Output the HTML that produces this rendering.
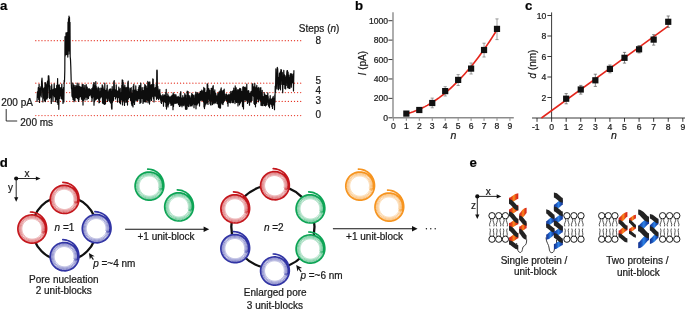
<!DOCTYPE html>
<html lang="en">
<head>
<meta charset="utf-8">
<title>Figure</title>
<style>
html,body{margin:0;padding:0;background:#fff;}
body{width:685px;height:309px;overflow:hidden;}
svg{display:block;will-change:transform;}
svg text{font-family:"Liberation Sans", Arial, Helvetica, sans-serif;stroke:#1a1a1a;stroke-width:0.22px;}
</style>
</head>
<body>
<svg width="685" height="309" viewBox="0 0 685 309">
<defs>
<linearGradient id="gR" x1="0" y1="0" x2="1" y2="0"><stop offset="0" stop-color="#d31d1a"/><stop offset="0.28" stop-color="#e4401a"/><stop offset="0.52" stop-color="#f98f1c"/><stop offset="0.76" stop-color="#e4401a"/><stop offset="1" stop-color="#d31d1a"/></linearGradient>
<linearGradient id="gB" x1="0" y1="0" x2="1" y2="0"><stop offset="0" stop-color="#12308f"/><stop offset="0.28" stop-color="#1c52b8"/><stop offset="0.52" stop-color="#2d84e8"/><stop offset="0.76" stop-color="#1c52b8"/><stop offset="1" stop-color="#12308f"/></linearGradient>
</defs>
<g id="panel-a">
<text x="0.00" y="10.30" font-size="13.2" text-anchor="start" font-weight="bold" font-style="normal" fill="#000" >a</text>
<line x1="35.8" y1="40.65" x2="302.6" y2="40.65" stroke="#e63323" stroke-width="1.3" stroke-linecap="round" stroke-dasharray="0.01 3.07" />
<line x1="35.8" y1="83.2" x2="302.6" y2="83.2" stroke="#e63323" stroke-width="1.3" stroke-linecap="round" stroke-dasharray="0.01 3.07" />
<line x1="35.8" y1="92.55" x2="302.6" y2="92.55" stroke="#e63323" stroke-width="1.3" stroke-linecap="round" stroke-dasharray="0.01 3.07" />
<line x1="35.8" y1="101.45" x2="302.6" y2="101.45" stroke="#e63323" stroke-width="1.3" stroke-linecap="round" stroke-dasharray="0.01 3.07" />
<line x1="35.8" y1="115.55" x2="302.6" y2="115.55" stroke="#e63323" stroke-width="1.3" stroke-linecap="round" stroke-dasharray="0.01 3.07" />
<text x="298.80" y="32.10" font-size="10" text-anchor="start" font-weight="normal" font-style="normal" fill="#1a1a1a" >Steps (<tspan font-style="italic">n</tspan>)</text>
<text x="315.40" y="44.10" font-size="10" text-anchor="start" font-weight="normal" font-style="normal" fill="#1a1a1a" >8</text>
<text x="315.40" y="84.20" font-size="10" text-anchor="start" font-weight="normal" font-style="normal" fill="#1a1a1a" >5</text>
<text x="315.40" y="94.00" font-size="10" text-anchor="start" font-weight="normal" font-style="normal" fill="#1a1a1a" >4</text>
<text x="315.40" y="104.20" font-size="10" text-anchor="start" font-weight="normal" font-style="normal" fill="#1a1a1a" >3</text>
<text x="315.40" y="118.40" font-size="10" text-anchor="start" font-weight="normal" font-style="normal" fill="#1a1a1a" >0</text>
<text x="1.20" y="106.20" font-size="10" text-anchor="start" font-weight="normal" font-style="normal" fill="#1a1a1a" >200 pA</text>
<text x="20.30" y="125.70" font-size="10" text-anchor="start" font-weight="normal" font-style="normal" fill="#1a1a1a" >200 ms</text>
<path d="M6.2 109 V121 H17.2" fill="none" stroke="#1a1a1a" stroke-width="0.9"/>
<polyline points="37.0,102.0 37.4,91.9 37.8,97.5 38.3,87.5 38.7,99.5 39.1,84.3 39.5,102.5 39.9,88.5 40.4,95.1 40.8,86.9 41.2,97.0 41.6,81.5 42.0,78.2 42.5,86.8 42.9,101.9 43.3,88.9 43.7,98.2 44.1,87.8 44.6,100.7 45.0,82.7 45.4,101.6 45.8,82.9 46.2,99.1 46.7,84.8 47.1,98.9 47.5,81.0 47.9,97.5 48.3,75.8 48.8,75.9 49.2,81.6 49.6,98.4 50.0,86.0 50.4,97.4 50.9,90.6 51.3,103.5 51.7,84.5 52.1,94.6 52.5,89.8 53.0,101.5 53.4,89.3 53.8,95.6 54.2,83.8 54.6,96.8 55.1,88.5 55.5,101.6 55.9,88.8 56.3,99.3 56.7,85.4 57.2,102.6 57.6,78.5 58.0,104.4 58.4,85.0 58.8,109.3 59.3,84.9 59.7,98.4 60.1,88.1 60.5,96.0 60.9,87.7 61.4,98.7 61.8,84.0 62.2,99.2 62.6,89.4 63.0,103.5 63.5,87.6 63.9,102.0 64.2,80.3 64.5,81.7 64.8,70.7 65.0,36.7 65.2,55.9 65.5,39.0 65.8,54.6 66.0,32.9 66.2,54.1 66.5,36.1 66.8,54.6 67.0,32.6 67.2,53.9 67.5,34.8 67.8,57.1 68.0,22.1 68.2,54.3 68.5,18.7 68.8,50.5 69.0,16.1 69.2,50.8 69.5,17.4 69.8,53.9 70.0,22.3 70.2,56.8 70.5,59.6 70.8,66.8 71.0,73.9 71.2,80.9 71.5,88.4 71.8,89.5 72.0,96.2 72.2,88.5 72.5,97.2 72.8,83.2 73.0,99.5 73.2,84.2 73.5,95.3 73.8,87.8 74.0,101.7 74.2,85.3 74.5,97.4 74.8,87.1 75.0,100.5 75.2,88.0 75.5,97.6 75.8,85.6 76.0,95.0 76.2,92.6 76.5,97.7 76.8,85.9 77.0,94.6 77.2,83.2 77.5,98.6 77.8,86.0 78.0,95.7 78.2,89.2 78.5,101.4 78.8,83.9 79.0,99.9 79.2,89.4 79.5,97.2 79.8,86.7 80.0,95.4 80.2,91.0 80.5,96.6 80.8,87.0 81.0,94.9 81.2,87.6 81.5,99.2 81.8,87.1 82.0,98.0 82.2,84.4 82.5,100.4 82.8,91.7 83.0,105.1 83.2,84.6 83.5,100.4 83.8,87.8 84.0,98.3 84.2,90.4 84.5,98.0 84.8,85.3 85.0,100.0 85.2,89.9 85.5,94.7 85.8,91.0 86.0,97.2 86.2,84.6 86.5,93.5 86.8,88.0 87.0,99.7 87.2,87.0 87.5,97.0 87.8,90.8 88.0,97.9 88.2,88.9 88.5,98.5 88.8,92.0 89.0,95.6 89.2,88.7 89.5,95.6 89.8,91.2 90.0,94.4 90.2,89.3 90.5,93.1 90.8,91.3 91.0,96.0 91.2,90.1 91.5,97.6 91.8,88.7 92.0,101.2 92.2,89.3 92.5,97.9 92.8,87.2 93.0,93.8 93.2,84.6 93.5,96.6 93.8,82.6 94.0,105.2 94.2,82.8 94.5,101.8 94.8,89.3 95.0,95.2 95.2,85.7 95.5,99.9 95.8,81.5 96.0,99.4 96.2,86.4 96.5,98.9 96.8,88.0 97.0,98.3 97.2,89.9 97.5,94.7 97.8,91.5 98.0,98.5 98.2,87.1 98.5,99.3 98.8,92.6 99.0,102.8 99.2,88.4 99.5,102.5 99.8,91.7 100.0,98.7 100.2,91.5 100.5,97.4 100.8,88.2 101.0,95.6 101.2,91.8 101.5,96.3 101.8,88.1 102.0,97.6 102.2,84.8 102.5,103.1 102.8,85.9 103.0,100.1 103.2,87.7 103.5,103.7 103.8,91.8 104.0,103.8 104.2,89.2 104.5,104.3 104.8,83.1 105.0,104.3 105.2,92.8 105.5,103.5 105.8,90.4 106.0,99.0 106.2,90.3 106.5,96.5 106.8,88.5 107.0,98.0 107.2,85.0 107.5,101.5 107.8,92.5 108.0,97.6 108.2,91.8 108.5,98.2 108.8,90.5 109.0,100.6 109.2,89.6 109.5,96.8 109.8,89.0 110.0,101.7 110.2,90.1 110.5,102.9 110.8,88.9 111.0,97.8 111.2,91.1 111.5,107.6 111.8,109.2 112.0,108.6 112.2,86.7 112.5,102.3 112.8,92.3 113.0,96.6 113.2,89.6 113.5,100.3 113.8,81.6 114.0,81.6 114.2,80.5 114.5,96.5 114.8,89.6 115.0,96.3 115.2,89.9 115.5,99.0 115.8,91.3 116.0,97.5 116.2,84.8 116.5,96.6 116.8,90.6 117.0,96.0 117.2,92.9 117.5,102.1 117.8,91.0 118.0,97.6 118.2,91.4 118.5,97.0 118.8,87.1 119.0,97.7 119.2,89.9 119.5,102.7 119.8,89.3 120.0,99.9 120.2,88.4 120.5,103.8 120.8,92.7 121.0,97.6 121.2,92.9 121.5,99.9 121.8,85.0 122.0,99.5 122.2,79.8 122.5,104.9 122.8,80.4 123.0,101.9 123.2,82.4 123.5,98.9 123.8,86.8 124.0,100.7 124.2,89.8 124.5,105.5 124.8,85.1 125.0,97.8 125.2,87.2 125.5,99.8 125.8,88.1 126.0,102.5 126.2,90.1 126.5,101.4 126.8,87.3 127.0,99.0 127.2,89.8 127.5,105.1 127.8,82.6 128.0,82.9 128.2,81.0 128.5,99.0 128.8,87.7 129.0,95.5 129.2,92.0 129.5,97.5 129.8,92.0 130.0,95.7 130.2,88.6 130.5,100.3 130.8,92.2 131.0,99.8 131.2,87.5 131.5,104.0 131.8,93.6 132.0,105.6 132.2,94.2 132.5,98.6 132.8,90.1 133.0,106.9 133.2,86.1 133.5,102.4 133.8,84.3 134.0,101.0 134.2,90.4 134.5,104.5 134.8,90.0 135.0,96.4 135.2,94.2 135.5,99.7 135.8,85.9 136.0,101.1 136.2,89.9 136.5,100.2 136.8,93.4 137.0,98.9 137.2,91.5 137.5,100.6 137.8,92.1 138.0,100.1 138.2,89.3 138.5,98.3 138.8,87.3 139.0,98.3 139.2,85.7 139.5,98.1 139.8,93.1 140.0,103.4 140.2,85.6 140.5,101.4 140.8,83.2 141.0,102.3 141.2,91.3 141.5,94.8 141.8,91.7 142.0,98.4 142.2,87.5 142.5,95.6 142.8,91.5 143.0,103.5 143.2,90.5 143.5,97.0 143.8,91.5 144.0,102.0 144.2,87.1 144.5,101.2 144.8,84.4 145.0,101.3 145.2,85.1 145.5,100.9 145.8,85.9 146.0,102.3 146.2,86.0 146.5,96.2 146.8,88.0 147.0,99.9 147.2,89.3 147.5,100.3 147.8,81.4 148.0,102.7 148.2,86.7 148.5,101.0 148.8,82.7 149.0,95.2 149.2,85.7 149.5,104.1 149.8,81.9 150.0,100.9 150.2,85.3 150.5,93.1 150.8,88.6 151.0,99.0 151.2,84.6 151.5,100.4 151.8,90.5 152.0,97.0 152.2,84.7 152.5,96.1 152.8,78.8 153.0,79.6 153.2,79.3 153.5,98.7 153.8,84.3 154.0,102.0 154.2,88.0 154.5,95.0 154.8,89.9 155.0,96.0 155.2,87.7 155.5,93.7 155.8,90.2 156.0,96.8 156.2,84.7 156.5,99.3 156.8,70.5 157.0,70.0 157.2,70.9 157.5,98.2 157.8,86.4 158.0,98.4 158.2,88.8 158.5,99.6 158.8,90.5 159.0,97.8 159.2,93.8 159.5,97.8 159.8,89.4 160.0,98.8 160.2,93.7 160.5,99.9 160.8,96.9 161.0,102.4 161.2,95.6 161.5,103.4 161.8,97.7 162.0,101.3 162.2,96.5 162.5,100.7 162.8,94.7 163.0,100.3 163.2,97.3 163.5,106.2 163.8,96.1 164.0,102.2 164.2,94.9 164.5,101.4 164.8,95.4 165.0,100.9 165.2,96.7 165.5,102.5 165.8,92.3 166.0,106.4 166.2,89.4 166.5,109.1 166.8,96.7 167.0,105.2 167.2,96.3 167.5,102.4 167.8,93.8 168.0,106.9 168.2,95.5 168.5,104.8 168.8,96.0 169.0,103.5 169.2,96.9 169.5,101.4 169.8,97.3 170.0,101.7 170.2,99.1 170.5,103.1 170.8,96.6 171.0,105.5 171.2,96.2 171.5,103.8 171.8,97.7 172.0,104.9 172.2,95.1 172.5,105.0 172.8,97.0 173.0,109.7 173.2,92.9 173.5,106.6 173.8,95.4 174.0,103.8 174.2,94.3 174.5,101.3 174.8,97.2 175.0,103.2 175.2,95.5 175.5,103.3 175.8,94.5 176.0,100.3 176.2,95.8 176.5,103.1 176.8,97.7 177.0,102.5 177.2,97.5 177.5,102.8 177.8,96.7 178.0,101.5 178.2,96.3 178.5,104.6 178.8,100.5 179.0,104.3 179.2,97.4 179.5,106.4 179.8,97.9 180.0,106.2 180.2,93.4 180.5,103.6 180.8,91.7 181.0,105.1 181.2,97.6 181.5,101.9 181.8,100.5 182.0,106.8 182.2,98.1 182.5,103.3 182.8,95.6 183.0,105.1 183.2,97.9 183.5,101.8 183.8,100.8 184.0,105.8 184.2,97.1 184.5,104.2 184.8,93.6 185.0,103.7 185.2,96.6 185.5,109.2 185.8,95.2 186.0,104.1 186.2,98.4 186.5,109.3 186.8,99.3 187.0,108.9 187.2,91.0 187.5,105.4 187.8,94.1 188.0,105.6 188.2,91.7 188.5,106.6 188.8,97.5 189.0,106.3 189.2,95.6 189.5,103.9 189.8,96.9 190.0,102.2 190.2,98.5 190.5,106.0 190.8,100.1 191.0,105.7 191.2,95.6 191.5,103.2 191.8,93.3 192.0,106.0 192.2,97.6 192.5,104.7 192.8,94.7 193.0,101.0 193.2,96.3 193.5,103.6 193.8,95.6 194.0,107.7 194.2,98.0 194.5,103.5 194.8,98.7 195.0,104.6 195.2,94.7 195.5,101.4 195.8,92.0 196.0,108.8 196.2,98.2 196.5,101.1 196.8,94.1 197.0,105.0 197.2,92.6 197.5,103.8 197.8,93.1 198.0,101.3 198.2,94.2 198.5,102.8 198.8,95.0 199.0,98.6 199.2,93.7 199.5,106.1 199.8,93.9 200.0,99.9 200.2,91.6 200.5,98.1 200.8,91.4 201.0,100.7 201.2,92.7 201.5,96.3 201.8,90.1 202.0,99.8 202.2,91.5 202.5,100.3 202.8,93.0 203.0,96.8 203.2,90.6 203.5,101.9 203.8,87.4 204.0,106.9 204.2,92.2 204.5,108.6 204.8,88.6 205.0,106.1 205.2,92.5 205.5,103.5 205.8,92.6 206.0,104.1 206.2,93.7 206.5,101.8 206.8,90.7 207.0,103.0 207.2,83.8 207.5,84.2 207.8,85.1 208.0,104.4 208.2,89.1 208.5,98.7 208.8,88.5 209.0,99.2 209.2,90.0 209.5,100.7 209.8,90.3 210.0,103.4 210.2,94.9 210.5,104.7 210.8,95.1 211.0,105.1 211.2,88.3 211.5,97.2 211.8,88.4 212.0,100.7 212.2,93.8 212.5,104.6 212.8,86.5 213.0,102.8 213.2,85.7 213.5,101.8 213.8,91.4 214.0,103.7 214.2,93.3 214.5,102.6 214.8,89.9 215.0,102.1 215.2,92.7 215.5,103.0 215.8,93.5 216.0,100.7 216.2,95.6 216.5,101.2 216.8,97.6 217.0,103.4 217.2,95.9 217.5,102.2 217.8,93.7 218.0,104.2 218.2,96.4 218.5,107.2 218.8,92.0 219.0,104.3 219.2,95.6 219.5,108.0 219.8,91.2 220.0,105.8 220.2,93.3 220.5,108.1 220.8,89.0 221.0,102.6 221.2,87.9 221.5,100.2 221.8,90.7 222.0,104.0 222.2,91.6 222.5,100.9 222.8,93.7 223.0,104.6 223.2,90.4 223.5,102.4 223.8,93.3 224.0,100.8 224.2,89.2 224.5,101.0 224.8,94.1 225.0,97.4 225.2,96.9 225.5,98.8 225.8,97.0 226.0,100.5 226.2,93.9 226.5,99.5 226.8,94.3 227.0,101.1 227.2,97.2 227.5,103.5 227.8,95.5 228.0,106.2 228.2,96.7 228.5,101.3 228.8,94.4 229.0,102.2 229.2,95.2 229.5,102.3 229.8,96.8 230.0,102.7 230.2,93.8 230.5,102.8 230.8,91.3 231.0,99.1 231.2,95.2 231.5,100.1 231.8,93.4 232.0,102.4 232.2,91.4 232.5,101.6 232.8,93.1 233.0,102.8 233.2,90.4 233.5,102.3 233.8,88.1 234.0,99.4 234.2,90.7 234.5,97.5 234.8,92.2 235.0,103.6 235.2,85.9 235.5,99.7 235.8,88.2 236.0,101.8 236.2,87.8 236.5,102.4 236.8,90.5 237.0,96.6 237.2,94.1 237.5,102.3 237.8,89.6 238.0,106.0 238.2,90.1 238.5,102.3 238.8,92.9 239.0,96.4 239.2,89.4 239.5,104.8 239.8,88.3 240.0,99.7 240.2,88.6 240.5,102.9 240.8,88.9 241.0,100.9 241.2,93.2 241.5,97.5 241.8,91.3 242.0,101.4 242.2,93.8 242.5,106.6 242.8,87.3 243.0,99.9 243.2,86.5 243.5,109.0 243.8,88.7 244.0,101.8 244.2,87.3 244.5,97.3 244.8,91.1 245.0,99.7 245.2,87.2 245.5,96.4 245.8,88.2 246.0,100.8 246.2,90.1 246.5,99.8 246.8,84.0 247.0,99.0 247.2,92.8 247.5,103.5 247.8,91.1 248.0,102.4 248.2,90.7 248.5,99.9 248.8,90.9 249.0,95.7 249.2,94.9 249.5,105.2 249.8,93.4 250.0,101.5 250.2,93.9 250.5,99.2 250.8,91.9 251.0,102.2 251.2,91.4 251.5,95.5 251.8,93.5 252.0,100.5 252.2,84.0 252.5,85.0 252.8,83.8 253.0,95.6 253.2,89.2 253.5,96.3 253.8,86.9 254.0,103.4 254.2,93.4 254.5,104.3 254.8,83.6 255.0,99.9 255.2,89.0 255.5,106.8 255.8,87.8 256.0,96.6 256.2,86.9 256.5,103.2 256.8,85.3 257.0,94.2 257.2,92.4 257.5,98.4 257.8,88.2 258.0,99.7 258.2,92.3 258.5,101.8 258.8,87.4 259.0,94.9 259.2,91.6 259.5,98.9 259.8,93.3 260.0,100.3 260.2,88.4 260.5,99.1 260.8,87.5 261.0,105.3 261.2,92.4 261.5,101.9 261.8,93.3 262.0,105.6 262.2,90.3 262.5,102.6 262.8,96.3 263.0,105.6 263.2,96.6 263.5,101.4 263.8,98.4 264.0,103.5 264.2,92.7 264.5,105.4 264.8,94.0 265.0,105.4 265.2,95.1 265.5,105.9 265.8,98.7 266.0,105.2 266.2,95.4 266.5,105.0 266.8,95.6 267.0,102.1 267.2,95.7 267.5,102.0 267.8,92.9 268.0,104.5 268.2,96.5 268.5,106.1 268.8,100.6 269.0,105.3 269.2,99.9 269.5,107.7 269.8,98.4 270.0,102.7 270.2,95.7 270.5,103.8 270.8,99.8 271.0,104.2 271.2,99.3 271.5,104.6 271.8,100.4 272.0,106.5 272.2,98.3 272.5,108.4 272.8,97.5 273.0,103.5 273.2,96.4 273.5,105.0 273.8,98.0 274.0,103.1 274.2,100.3 274.5,109.7 274.8,94.8 275.0,102.3 275.2,86.2 275.5,92.3 275.9,68.8 276.2,83.6 276.6,80.0 276.9,88.9 277.3,67.3 277.7,68.9 278.0,77.6 278.4,89.8 278.7,77.6 279.1,88.6 279.5,73.3 279.8,83.9 280.2,72.1 280.5,89.8 280.9,69.6 281.3,69.8 281.6,72.2 282.0,84.4 282.3,72.6 282.7,92.7 283.1,78.7 283.4,81.2 283.8,70.4 284.1,84.4 284.5,74.9 284.9,88.4 285.2,75.8 285.6,88.9 285.9,77.8 286.3,85.5 286.7,74.3 287.0,70.8 287.4,70.6 287.7,87.7 288.1,72.1 288.5,87.8 288.8,75.3 289.2,88.4 289.5,77.8 289.9,88.3 290.3,73.8 290.6,74.4 291.0,73.7 291.3,87.2 291.7,74.2 292.1,82.9 292.4,76.5 292.8,82.1 293.1,74.0 293.5,90.9 293.9,70.3" fill="none" stroke="#0d0d0d" stroke-width="1.2" stroke-linejoin="round"/>
</g>
<g id="panel-b">
<text x="355.00" y="10.40" font-size="13.2" text-anchor="start" font-weight="bold" font-style="normal" fill="#000" >b</text>
<path d="M393.0 12.2 V117.8 H513.8" fill="none" stroke="#8c8c8c" stroke-width="1.4"/>
<line x1="388.40" y1="117.80" x2="392.40" y2="117.80" stroke="#222" stroke-width="0.9"/>
<text x="388.00" y="120.80" font-size="8.6" text-anchor="end" font-weight="normal" font-style="normal" fill="#1a1a1a" >0</text>
<line x1="388.40" y1="98.38" x2="392.40" y2="98.38" stroke="#222" stroke-width="0.9"/>
<text x="388.00" y="101.38" font-size="8.6" text-anchor="end" font-weight="normal" font-style="normal" fill="#1a1a1a" >200</text>
<line x1="388.40" y1="78.96" x2="392.40" y2="78.96" stroke="#222" stroke-width="0.9"/>
<text x="388.00" y="81.96" font-size="8.6" text-anchor="end" font-weight="normal" font-style="normal" fill="#1a1a1a" >400</text>
<line x1="388.40" y1="59.54" x2="392.40" y2="59.54" stroke="#222" stroke-width="0.9"/>
<text x="388.00" y="62.54" font-size="8.6" text-anchor="end" font-weight="normal" font-style="normal" fill="#1a1a1a" >600</text>
<line x1="388.40" y1="40.12" x2="392.40" y2="40.12" stroke="#222" stroke-width="0.9"/>
<text x="388.00" y="43.12" font-size="8.6" text-anchor="end" font-weight="normal" font-style="normal" fill="#1a1a1a" >800</text>
<line x1="388.40" y1="20.70" x2="392.40" y2="20.70" stroke="#222" stroke-width="0.9"/>
<text x="388.00" y="23.70" font-size="8.6" text-anchor="end" font-weight="normal" font-style="normal" fill="#1a1a1a" >1000</text>
<line x1="393.40" y1="118.30" x2="393.40" y2="120.80" stroke="#777" stroke-width="0.9"/>
<text x="393.40" y="128.70" font-size="8.6" text-anchor="middle" font-weight="normal" font-style="normal" fill="#1a1a1a" >0</text>
<line x1="406.35" y1="118.30" x2="406.35" y2="120.80" stroke="#777" stroke-width="0.9"/>
<text x="406.35" y="128.70" font-size="8.6" text-anchor="middle" font-weight="normal" font-style="normal" fill="#1a1a1a" >1</text>
<line x1="419.30" y1="118.30" x2="419.30" y2="120.80" stroke="#777" stroke-width="0.9"/>
<text x="419.30" y="128.70" font-size="8.6" text-anchor="middle" font-weight="normal" font-style="normal" fill="#1a1a1a" >2</text>
<line x1="432.25" y1="118.30" x2="432.25" y2="120.80" stroke="#777" stroke-width="0.9"/>
<text x="432.25" y="128.70" font-size="8.6" text-anchor="middle" font-weight="normal" font-style="normal" fill="#1a1a1a" >3</text>
<line x1="445.20" y1="118.30" x2="445.20" y2="120.80" stroke="#777" stroke-width="0.9"/>
<text x="445.20" y="128.70" font-size="8.6" text-anchor="middle" font-weight="normal" font-style="normal" fill="#1a1a1a" >4</text>
<line x1="458.15" y1="118.30" x2="458.15" y2="120.80" stroke="#777" stroke-width="0.9"/>
<text x="458.15" y="128.70" font-size="8.6" text-anchor="middle" font-weight="normal" font-style="normal" fill="#1a1a1a" >5</text>
<line x1="471.10" y1="118.30" x2="471.10" y2="120.80" stroke="#777" stroke-width="0.9"/>
<text x="471.10" y="128.70" font-size="8.6" text-anchor="middle" font-weight="normal" font-style="normal" fill="#1a1a1a" >6</text>
<line x1="484.05" y1="118.30" x2="484.05" y2="120.80" stroke="#777" stroke-width="0.9"/>
<text x="484.05" y="128.70" font-size="8.6" text-anchor="middle" font-weight="normal" font-style="normal" fill="#1a1a1a" >7</text>
<line x1="497.00" y1="118.30" x2="497.00" y2="120.80" stroke="#777" stroke-width="0.9"/>
<text x="497.00" y="128.70" font-size="8.6" text-anchor="middle" font-weight="normal" font-style="normal" fill="#1a1a1a" >8</text>
<line x1="509.95" y1="118.30" x2="509.95" y2="120.80" stroke="#777" stroke-width="0.9"/>
<text x="509.95" y="128.70" font-size="8.6" text-anchor="middle" font-weight="normal" font-style="normal" fill="#1a1a1a" >9</text>
<text x="453.30" y="139.00" font-size="10.5" text-anchor="middle" font-weight="normal" font-style="italic" fill="#1a1a1a" >n</text>
<text transform="translate(365.8 63.2) rotate(-90)" font-size="10" text-anchor="middle" fill="#1a1a1a"><tspan font-style="italic">I</tspan> (pA)</text>
<path d="M406.35 113.76 L408.67 113.16 L411.00 112.47 L413.32 111.70 L415.65 110.85 L417.97 109.92 L420.30 108.91 L422.62 107.82 L424.94 106.64 L427.27 105.38 L429.59 104.05 L431.92 102.63 L434.24 101.12 L436.57 99.54 L438.89 97.88 L441.22 96.13 L443.54 94.31 L445.86 92.40 L448.19 90.41 L450.51 88.34 L452.84 86.19 L455.16 83.95 L457.49 81.64 L459.81 79.24 L462.13 76.76 L464.46 74.20 L466.78 71.56 L469.11 68.84 L471.43 66.04 L473.76 63.15 L476.08 60.18 L478.41 57.14 L480.73 54.01 L483.05 50.80 L485.38 47.50 L487.70 44.13 L490.03 40.67 L492.35 37.14 L494.68 33.52 L497.00 29.82" fill="none" stroke="#e5261c" stroke-width="1.65"/>
<rect x="403.25" y="110.50" width="6.2" height="6.2" fill="#111"/>
<rect x="416.20" y="106.90" width="6.2" height="6.2" fill="#111"/>
<path d="M432.25 98.1 V107.8 M430.65 98.1 h3.2 M430.65 107.8 h3.2" stroke="#777" stroke-width="0.7" fill="none"/>
<rect x="429.15" y="99.90" width="6.2" height="6.2" fill="#111"/>
<path d="M445.20 86.7 V96.0 M443.60 86.7 h3.2 M443.60 96.0 h3.2" stroke="#777" stroke-width="0.7" fill="none"/>
<rect x="442.10" y="88.00" width="6.2" height="6.2" fill="#111"/>
<path d="M458.15 74.6 V85.5 M456.55 74.6 h3.2 M456.55 85.5 h3.2" stroke="#777" stroke-width="0.7" fill="none"/>
<rect x="455.05" y="76.80" width="6.2" height="6.2" fill="#111"/>
<path d="M471.10 63.0 V74.0 M469.50 63.0 h3.2 M469.50 74.0 h3.2" stroke="#777" stroke-width="0.7" fill="none"/>
<rect x="468.00" y="65.50" width="6.2" height="6.2" fill="#111"/>
<path d="M484.05 43.2 V57.0 M482.45 43.2 h3.2 M482.45 57.0 h3.2" stroke="#777" stroke-width="0.7" fill="none"/>
<rect x="480.95" y="46.90" width="6.2" height="6.2" fill="#111"/>
<path d="M497.00 18.9 V39.6 M495.40 18.9 h3.2 M495.40 39.6 h3.2" stroke="#777" stroke-width="0.7" fill="none"/>
<rect x="493.90" y="25.80" width="6.2" height="6.2" fill="#111"/>
</g>
<g id="panel-c">
<text x="525.00" y="10.30" font-size="13.2" text-anchor="start" font-weight="bold" font-style="normal" fill="#000" >c</text>
<path d="M551.6 12.4 V118.0" fill="none" stroke="#222" stroke-width="0.9"/>
<path d="M532 118.0 H685" fill="none" stroke="#222" stroke-width="0.9"/>
<line x1="547.40" y1="97.50" x2="551.60" y2="97.50" stroke="#222" stroke-width="0.9"/>
<text x="546.20" y="100.50" font-size="8.6" text-anchor="end" font-weight="normal" font-style="normal" fill="#1a1a1a" >2</text>
<line x1="547.40" y1="77.00" x2="551.60" y2="77.00" stroke="#222" stroke-width="0.9"/>
<text x="546.20" y="80.00" font-size="8.6" text-anchor="end" font-weight="normal" font-style="normal" fill="#1a1a1a" >4</text>
<line x1="547.40" y1="56.50" x2="551.60" y2="56.50" stroke="#222" stroke-width="0.9"/>
<text x="546.20" y="59.50" font-size="8.6" text-anchor="end" font-weight="normal" font-style="normal" fill="#1a1a1a" >6</text>
<line x1="547.40" y1="36.00" x2="551.60" y2="36.00" stroke="#222" stroke-width="0.9"/>
<text x="546.20" y="39.00" font-size="8.6" text-anchor="end" font-weight="normal" font-style="normal" fill="#1a1a1a" >8</text>
<line x1="547.40" y1="15.50" x2="551.60" y2="15.50" stroke="#222" stroke-width="0.9"/>
<text x="546.20" y="18.50" font-size="8.6" text-anchor="end" font-weight="normal" font-style="normal" fill="#1a1a1a" >10</text>
<line x1="537.02" y1="118.00" x2="537.02" y2="121.80" stroke="#222" stroke-width="0.9"/>
<text x="535.82" y="129.80" font-size="8.6" text-anchor="middle" font-weight="normal" font-style="normal" fill="#1a1a1a" >-1</text>
<line x1="551.60" y1="118.00" x2="551.60" y2="121.80" stroke="#222" stroke-width="0.9"/>
<text x="551.60" y="129.80" font-size="8.6" text-anchor="middle" font-weight="normal" font-style="normal" fill="#1a1a1a" >0</text>
<line x1="566.18" y1="118.00" x2="566.18" y2="121.80" stroke="#222" stroke-width="0.9"/>
<text x="566.18" y="129.80" font-size="8.6" text-anchor="middle" font-weight="normal" font-style="normal" fill="#1a1a1a" >1</text>
<line x1="580.76" y1="118.00" x2="580.76" y2="121.80" stroke="#222" stroke-width="0.9"/>
<text x="580.76" y="129.80" font-size="8.6" text-anchor="middle" font-weight="normal" font-style="normal" fill="#1a1a1a" >2</text>
<line x1="595.34" y1="118.00" x2="595.34" y2="121.80" stroke="#222" stroke-width="0.9"/>
<text x="595.34" y="129.80" font-size="8.6" text-anchor="middle" font-weight="normal" font-style="normal" fill="#1a1a1a" >3</text>
<line x1="609.92" y1="118.00" x2="609.92" y2="121.80" stroke="#222" stroke-width="0.9"/>
<text x="609.92" y="129.80" font-size="8.6" text-anchor="middle" font-weight="normal" font-style="normal" fill="#1a1a1a" >4</text>
<line x1="624.50" y1="118.00" x2="624.50" y2="121.80" stroke="#222" stroke-width="0.9"/>
<text x="624.50" y="129.80" font-size="8.6" text-anchor="middle" font-weight="normal" font-style="normal" fill="#1a1a1a" >5</text>
<line x1="639.08" y1="118.00" x2="639.08" y2="121.80" stroke="#222" stroke-width="0.9"/>
<text x="639.08" y="129.80" font-size="8.6" text-anchor="middle" font-weight="normal" font-style="normal" fill="#1a1a1a" >6</text>
<line x1="653.66" y1="118.00" x2="653.66" y2="121.80" stroke="#222" stroke-width="0.9"/>
<text x="653.66" y="129.80" font-size="8.6" text-anchor="middle" font-weight="normal" font-style="normal" fill="#1a1a1a" >7</text>
<line x1="668.24" y1="118.00" x2="668.24" y2="121.80" stroke="#222" stroke-width="0.9"/>
<text x="668.24" y="129.80" font-size="8.6" text-anchor="middle" font-weight="normal" font-style="normal" fill="#1a1a1a" >8</text>
<line x1="682.82" y1="118.00" x2="682.82" y2="121.80" stroke="#222" stroke-width="0.9"/>
<text x="682.82" y="129.80" font-size="8.6" text-anchor="middle" font-weight="normal" font-style="normal" fill="#1a1a1a" >9</text>
<text x="613.80" y="139.00" font-size="10.5" text-anchor="middle" font-weight="normal" font-style="italic" fill="#1a1a1a" >n</text>
<text transform="translate(535.9 64.0) rotate(-90)" font-size="10" text-anchor="middle" fill="#1a1a1a"><tspan font-style="italic">d</tspan> (nm)</text>
<path d="M541.4 118.0 L668.2 26.2" fill="none" stroke="#e5261c" stroke-width="1.55"/>
<path d="M566.18 93.6 V103.8 M564.58 93.6 h3.2 M564.58 103.8 h3.2" stroke="#555" stroke-width="0.7" fill="none"/>
<rect x="563.08" y="95.60" width="6.2" height="6.2" fill="#111"/>
<path d="M580.76 85.4 V94.1 M579.16 85.4 h3.2 M579.16 94.1 h3.2" stroke="#555" stroke-width="0.7" fill="none"/>
<rect x="577.66" y="86.40" width="6.2" height="6.2" fill="#111"/>
<path d="M595.34 74.2 V86.4 M593.74 74.2 h3.2 M593.74 86.4 h3.2" stroke="#555" stroke-width="0.7" fill="none"/>
<rect x="592.24" y="77.20" width="6.2" height="6.2" fill="#111"/>
<path d="M609.92 65.0 V72.8 M608.32 65.0 h3.2 M608.32 72.8 h3.2" stroke="#555" stroke-width="0.7" fill="none"/>
<rect x="606.82" y="65.80" width="6.2" height="6.2" fill="#111"/>
<path d="M624.50 52.4 V63.1 M622.90 52.4 h3.2 M622.90 63.1 h3.2" stroke="#555" stroke-width="0.7" fill="none"/>
<rect x="621.40" y="54.70" width="6.2" height="6.2" fill="#111"/>
<path d="M639.08 45.6 V52.9 M637.48 45.6 h3.2 M637.48 52.9 h3.2" stroke="#555" stroke-width="0.7" fill="none"/>
<rect x="635.98" y="46.20" width="6.2" height="6.2" fill="#111"/>
<path d="M653.66 34.7 V45.1 M652.06 34.7 h3.2 M652.06 45.1 h3.2" stroke="#555" stroke-width="0.7" fill="none"/>
<rect x="650.56" y="36.50" width="6.2" height="6.2" fill="#111"/>
<path d="M668.24 16.0 V27.4 M666.64 16.0 h3.2 M666.64 27.4 h3.2" stroke="#555" stroke-width="0.7" fill="none"/>
<rect x="665.14" y="18.70" width="6.2" height="6.2" fill="#111"/>
</g>
<g id="panel-d">
<text x="-0.20" y="166.90" font-size="13.2" text-anchor="start" font-weight="bold" font-style="normal" fill="#000" >d</text>
<circle cx="16.2" cy="178.5" r="2.1" fill="#111"/>
<path d="M16.2 178.5 H37.5" stroke="#111" stroke-width="0.9" fill="none"/>
<path d="M40.5 178.5 l-4.6 -2.1 v4.2 z" fill="#111"/>
<path d="M16.2 178.5 V198.8" stroke="#111" stroke-width="0.9" fill="none"/>
<path d="M16.2 201.8 l-2.1 -4.6 h4.2 z" fill="#111"/>
<text x="26.90" y="176.60" font-size="10" text-anchor="middle" font-weight="normal" font-style="normal" fill="#1a1a1a" >x</text>
<text x="10.40" y="190.60" font-size="10" text-anchor="middle" font-weight="normal" font-style="normal" fill="#1a1a1a" >y</text>
<circle cx="64.4" cy="228.5" r="32.2" fill="none" stroke="#111" stroke-width="2.3"/>
<circle cx="64.35" cy="199.15" r="14.2" fill="#fff"/>
<polyline points="62.88,182.39 64.79,182.54 66.64,182.89 68.41,183.43 70.10,184.17 71.67,185.08 73.12,186.15 74.42,187.36 75.57,188.69 76.55,190.12 77.37,191.63 78.00,193.21 78.46,194.83 78.76,196.48 78.93,198.13 78.94,199.79 78.75,201.43 78.38,203.04 77.84,204.60 77.12,206.08 76.23,207.47 75.20,208.75 74.03,209.91 72.74,210.92 71.35,211.78 69.87,212.47 68.32,212.99 66.72,213.34 65.10,213.49 63.47,213.47 61.86,213.26 60.29,212.87 58.77,212.31 57.32,211.57 55.97,210.68 54.73,209.65 53.62,208.48 52.65,207.19 51.83,205.81 51.17,204.34 50.68,202.81 50.38,201.24 50.25,199.64 50.30,198.04 50.53,196.46 50.94,194.92 51.52,193.44 52.27,192.03 53.17,190.72 54.21,189.52 55.37,188.45 56.65,187.52 58.03,186.74 59.48,186.12 60.99,185.67 62.54,185.39 64.11,185.29 65.68,185.37 67.22,185.63 68.73,186.06 70.18,186.66 71.54,187.41 72.82,188.31 73.98,189.36 75.01,190.52 75.90,191.79 76.64,193.15 77.23,194.59 77.64,196.08 77.89,197.61 77.96,199.15 77.85,200.69 77.57,202.20" fill="none" stroke="#c4161c" stroke-width="1.7" stroke-opacity="1.0" stroke-linecap="round" stroke-linejoin="round"/>
<polyline points="77.57,202.20 77.13,203.66 76.53,205.06 75.77,206.38 74.87,207.60 73.85,208.72 72.70,209.71 71.46,210.56 70.12,211.27 68.72,211.83 67.27,212.22 65.78,212.45 64.28,212.51 62.78,212.39 61.31,212.12 59.88,211.68 58.51,211.08 57.22,210.34 56.02,209.45 54.93,208.44 53.96,207.31 53.13,206.09 52.43,204.78 51.90,203.40 51.52,201.97 51.30,200.51 51.25,199.04 51.36,197.57 51.64,196.13 52.07,194.72 52.66,193.38 53.40,192.12 54.27,190.94 55.27,189.88 56.38,188.93 57.58,188.12 58.87,187.44 60.22,186.92 61.63,186.55 63.06,186.34 64.50,186.30 65.94,186.41 67.36,186.69 68.73,187.12 70.04,187.71 71.28,188.43 72.43,189.29 73.47,190.27 74.40,191.36 75.19,192.55 75.85,193.81 76.36,195.14 76.71,196.52 76.91,197.93 76.95,199.34 76.83,200.75 76.56,202.14 76.13,203.48" fill="none" stroke="#c4161c" stroke-width="0.62" stroke-opacity="1.0" stroke-linecap="round" stroke-linejoin="round"/>
<polyline points="76.60,201.98 76.19,203.33 75.63,204.62 74.93,205.84 74.09,206.98 73.14,208.01 72.08,208.92 70.93,209.71 69.69,210.37 68.39,210.88 67.05,211.24 65.67,211.45 64.28,211.51 62.90,211.40 61.54,211.14 60.22,210.74 58.95,210.18 57.76,209.49 56.65,208.67 55.64,207.74 54.75,206.70 53.98,205.56 53.34,204.35 52.84,203.07 52.49,201.75 52.29,200.41 52.25,199.05 52.35,197.69 52.61,196.36 53.01,195.06 53.56,193.83 54.24,192.66 55.05,191.58 55.97,190.59 56.99,189.72 58.10,188.97 59.29,188.35 60.54,187.87 61.84,187.53 63.16,187.34 64.49,187.30 65.82,187.41 67.12,187.66 68.39,188.06 69.60,188.60 70.74,189.27 71.80,190.06 72.76,190.97 73.61,191.98 74.34,193.07 74.94,194.24 75.41,195.46 75.73,196.73 75.92,198.02 75.95,199.33 75.84,200.63 75.59,201.90 75.19,203.14" fill="none" stroke="#c4161c" stroke-width="0.55" stroke-opacity="1.0" stroke-linecap="round" stroke-linejoin="round"/>
<polyline points="75.62,201.75 75.24,203.00 74.73,204.19 74.08,205.31 73.32,206.35 72.44,207.30 71.46,208.14 70.40,208.87 69.26,209.47 68.07,209.94 66.83,210.27 65.57,210.46 64.29,210.51 63.02,210.41 61.77,210.17 60.55,209.79 59.39,209.29 58.29,208.65 57.28,207.90 56.35,207.04 55.53,206.08 54.83,205.03 54.24,203.92 53.79,202.75 53.47,201.54 53.29,200.30 53.25,199.05 53.34,197.81 53.58,196.59 53.95,195.40 54.46,194.27 55.08,193.20 55.82,192.21 56.67,191.31 57.61,190.51 58.63,189.82 59.72,189.25 60.86,188.81 62.05,188.51 63.26,188.33 64.48,188.30 65.69,188.40 66.89,188.63 68.05,189.00 69.15,189.50 70.20,190.11 71.16,190.84 72.04,191.67 72.82,192.59 73.48,193.59 74.03,194.66 74.46,195.78 74.76,196.94 74.92,198.12 74.95,199.31 74.85,200.50 74.61,201.66 74.25,202.79" fill="none" stroke="#c4161c" stroke-width="0.46" stroke-opacity="1.0" stroke-linecap="round" stroke-linejoin="round"/>
<polyline points="74.65,201.53 74.30,202.66 73.83,203.74 73.24,204.77 72.54,205.72 71.74,206.58 70.85,207.35 69.89,208.01 68.85,208.56 67.76,208.98 66.64,209.29 65.49,209.46 64.32,209.51 63.17,209.42 62.03,209.21 60.92,208.87 59.86,208.40 58.87,207.83 57.94,207.15 57.10,206.37 56.35,205.50 55.70,204.55 55.17,203.54 54.75,202.48 54.46,201.38 54.29,200.26 54.24,199.12 54.33,198.00 54.54,196.88 54.87,195.81 55.32,194.77 55.88,193.80 56.55,192.90 57.31,192.07 58.16,191.35 59.08,190.72 60.07,190.20 61.10,189.79 62.17,189.50 63.27,189.34 64.37,189.29 65.48,189.38 66.56,189.58 67.61,189.91 68.62,190.35 69.57,190.89 70.45,191.54 71.25,192.29 71.96,193.11 72.57,194.01 73.08,194.97 73.48,195.98 73.76,197.03 73.92,198.10 73.96,199.17 73.87,200.25 73.67,201.30" fill="none" stroke="#c4161c" stroke-width="0.36" stroke-opacity="0.85" stroke-linecap="round" stroke-linejoin="round"/>
<circle cx="32.00" cy="228.75" r="14.2" fill="#fff"/>
<polyline points="30.53,211.99 32.44,212.14 34.29,212.49 36.06,213.03 37.75,213.77 39.32,214.68 40.77,215.75 42.07,216.96 43.22,218.29 44.20,219.72 45.02,221.23 45.65,222.81 46.11,224.43 46.41,226.08 46.58,227.73 46.59,229.39 46.40,231.03 46.03,232.64 45.49,234.20 44.77,235.68 43.88,237.07 42.85,238.35 41.68,239.51 40.39,240.52 39.00,241.38 37.52,242.07 35.97,242.59 34.37,242.94 32.75,243.09 31.12,243.07 29.51,242.86 27.94,242.47 26.42,241.91 24.97,241.17 23.62,240.28 22.38,239.25 21.27,238.08 20.30,236.79 19.48,235.41 18.82,233.94 18.33,232.41 18.03,230.84 17.90,229.24 17.95,227.64 18.18,226.06 18.59,224.52 19.17,223.04 19.92,221.63 20.82,220.32 21.86,219.12 23.02,218.05 24.30,217.12 25.68,216.34 27.13,215.72 28.64,215.27 30.19,214.99 31.76,214.89 33.33,214.97 34.87,215.23 36.38,215.66 37.83,216.26 39.19,217.01 40.47,217.91 41.63,218.96 42.66,220.12 43.55,221.39 44.29,222.75 44.88,224.19 45.29,225.68 45.54,227.21 45.61,228.75 45.50,230.29 45.22,231.80" fill="none" stroke="#c4161c" stroke-width="1.7" stroke-opacity="1.0" stroke-linecap="round" stroke-linejoin="round"/>
<polyline points="45.22,231.80 44.78,233.26 44.18,234.66 43.42,235.98 42.52,237.20 41.50,238.32 40.35,239.31 39.11,240.16 37.77,240.87 36.37,241.43 34.92,241.82 33.43,242.05 31.93,242.11 30.43,241.99 28.96,241.72 27.53,241.28 26.16,240.68 24.87,239.94 23.67,239.05 22.58,238.04 21.61,236.91 20.78,235.69 20.08,234.38 19.55,233.00 19.17,231.57 18.95,230.11 18.90,228.64 19.01,227.17 19.29,225.73 19.72,224.32 20.31,222.98 21.05,221.72 21.92,220.54 22.92,219.48 24.03,218.53 25.23,217.72 26.52,217.04 27.87,216.52 29.28,216.15 30.71,215.94 32.15,215.90 33.59,216.01 35.01,216.29 36.38,216.72 37.69,217.31 38.93,218.03 40.08,218.89 41.12,219.87 42.05,220.96 42.84,222.15 43.50,223.41 44.01,224.74 44.36,226.12 44.56,227.53 44.60,228.94 44.48,230.35 44.21,231.74 43.78,233.08" fill="none" stroke="#c4161c" stroke-width="0.62" stroke-opacity="1.0" stroke-linecap="round" stroke-linejoin="round"/>
<polyline points="44.25,231.58 43.84,232.93 43.28,234.22 42.58,235.44 41.74,236.58 40.79,237.61 39.73,238.52 38.58,239.31 37.34,239.97 36.04,240.48 34.70,240.84 33.32,241.05 31.93,241.11 30.55,241.00 29.19,240.74 27.87,240.34 26.60,239.78 25.41,239.09 24.30,238.27 23.29,237.34 22.40,236.30 21.63,235.16 20.99,233.95 20.49,232.67 20.14,231.35 19.94,230.01 19.90,228.65 20.00,227.29 20.26,225.96 20.66,224.66 21.21,223.43 21.89,222.26 22.70,221.18 23.62,220.19 24.64,219.32 25.75,218.57 26.94,217.95 28.19,217.47 29.49,217.13 30.81,216.94 32.14,216.90 33.47,217.01 34.77,217.26 36.04,217.66 37.25,218.20 38.39,218.87 39.45,219.66 40.41,220.57 41.26,221.58 41.99,222.67 42.59,223.84 43.06,225.06 43.38,226.33 43.57,227.62 43.60,228.93 43.49,230.23 43.24,231.50 42.84,232.74" fill="none" stroke="#c4161c" stroke-width="0.55" stroke-opacity="1.0" stroke-linecap="round" stroke-linejoin="round"/>
<polyline points="43.27,231.35 42.89,232.60 42.38,233.79 41.73,234.91 40.97,235.95 40.09,236.90 39.11,237.74 38.05,238.47 36.91,239.07 35.72,239.54 34.48,239.87 33.22,240.06 31.94,240.11 30.67,240.01 29.42,239.77 28.20,239.39 27.04,238.89 25.94,238.25 24.93,237.50 24.00,236.64 23.18,235.68 22.48,234.63 21.89,233.52 21.44,232.35 21.12,231.14 20.94,229.90 20.90,228.65 20.99,227.41 21.23,226.19 21.60,225.00 22.11,223.87 22.73,222.80 23.47,221.81 24.32,220.91 25.26,220.11 26.28,219.42 27.37,218.85 28.51,218.41 29.70,218.11 30.91,217.93 32.13,217.90 33.34,218.00 34.54,218.23 35.70,218.60 36.80,219.10 37.85,219.71 38.81,220.44 39.69,221.27 40.47,222.19 41.13,223.19 41.68,224.26 42.11,225.38 42.41,226.54 42.57,227.72 42.60,228.91 42.50,230.10 42.26,231.26 41.90,232.39" fill="none" stroke="#c4161c" stroke-width="0.46" stroke-opacity="1.0" stroke-linecap="round" stroke-linejoin="round"/>
<polyline points="42.30,231.13 41.95,232.26 41.48,233.34 40.89,234.37 40.19,235.32 39.39,236.18 38.50,236.95 37.54,237.61 36.50,238.16 35.41,238.58 34.29,238.89 33.14,239.06 31.97,239.11 30.82,239.02 29.68,238.81 28.57,238.47 27.51,238.00 26.52,237.43 25.59,236.75 24.75,235.97 24.00,235.10 23.35,234.15 22.82,233.14 22.40,232.08 22.11,230.98 21.94,229.86 21.89,228.72 21.98,227.60 22.19,226.48 22.52,225.41 22.97,224.37 23.53,223.40 24.20,222.50 24.96,221.67 25.81,220.95 26.73,220.32 27.72,219.80 28.75,219.39 29.82,219.10 30.92,218.94 32.02,218.89 33.13,218.98 34.21,219.18 35.26,219.51 36.27,219.95 37.22,220.49 38.10,221.14 38.90,221.89 39.61,222.71 40.22,223.61 40.73,224.57 41.13,225.58 41.41,226.63 41.57,227.70 41.61,228.77 41.52,229.85 41.32,230.90" fill="none" stroke="#c4161c" stroke-width="0.36" stroke-opacity="0.85" stroke-linecap="round" stroke-linejoin="round"/>
<circle cx="96.40" cy="228.45" r="14.2" fill="#fff"/>
<polyline points="94.93,211.69 96.84,211.84 98.69,212.19 100.46,212.73 102.15,213.47 103.72,214.38 105.17,215.45 106.47,216.66 107.62,217.99 108.60,219.42 109.42,220.93 110.05,222.51 110.51,224.13 110.81,225.78 110.98,227.43 110.99,229.09 110.80,230.73 110.43,232.34 109.89,233.90 109.17,235.38 108.28,236.77 107.25,238.05 106.08,239.21 104.79,240.22 103.40,241.08 101.92,241.77 100.37,242.29 98.77,242.64 97.15,242.79 95.52,242.77 93.91,242.56 92.34,242.17 90.82,241.61 89.37,240.87 88.02,239.98 86.78,238.95 85.67,237.78 84.70,236.49 83.88,235.11 83.22,233.64 82.73,232.11 82.43,230.54 82.30,228.94 82.35,227.34 82.58,225.76 82.99,224.22 83.57,222.74 84.32,221.33 85.22,220.02 86.26,218.82 87.42,217.75 88.70,216.82 90.08,216.04 91.53,215.42 93.04,214.97 94.59,214.69 96.16,214.59 97.73,214.67 99.27,214.93 100.78,215.36 102.23,215.96 103.59,216.71 104.87,217.61 106.03,218.66 107.06,219.82 107.95,221.09 108.69,222.45 109.28,223.89 109.69,225.38 109.94,226.91 110.01,228.45 109.90,229.99 109.62,231.50" fill="none" stroke="#3134a4" stroke-width="1.7" stroke-opacity="1.0" stroke-linecap="round" stroke-linejoin="round"/>
<polyline points="109.62,231.50 109.18,232.96 108.58,234.36 107.82,235.68 106.92,236.90 105.90,238.02 104.75,239.01 103.51,239.86 102.17,240.57 100.77,241.13 99.32,241.52 97.83,241.75 96.33,241.81 94.83,241.69 93.36,241.42 91.93,240.98 90.56,240.38 89.27,239.64 88.07,238.75 86.98,237.74 86.01,236.61 85.18,235.39 84.48,234.08 83.95,232.70 83.57,231.27 83.35,229.81 83.30,228.34 83.41,226.87 83.69,225.43 84.12,224.02 84.71,222.68 85.45,221.42 86.32,220.24 87.32,219.18 88.43,218.23 89.63,217.42 90.92,216.74 92.27,216.22 93.68,215.85 95.11,215.64 96.55,215.60 97.99,215.71 99.41,215.99 100.78,216.42 102.09,217.01 103.33,217.73 104.48,218.59 105.52,219.57 106.45,220.66 107.24,221.85 107.90,223.11 108.41,224.44 108.76,225.82 108.96,227.23 109.00,228.64 108.88,230.05 108.61,231.44 108.18,232.78" fill="none" stroke="#3134a4" stroke-width="0.62" stroke-opacity="1.0" stroke-linecap="round" stroke-linejoin="round"/>
<polyline points="108.65,231.28 108.24,232.63 107.68,233.92 106.98,235.14 106.14,236.28 105.19,237.31 104.13,238.22 102.98,239.01 101.74,239.67 100.44,240.18 99.10,240.54 97.72,240.75 96.33,240.81 94.95,240.70 93.59,240.44 92.27,240.04 91.00,239.48 89.81,238.79 88.70,237.97 87.69,237.04 86.80,236.00 86.03,234.86 85.39,233.65 84.89,232.37 84.54,231.05 84.34,229.71 84.30,228.35 84.40,226.99 84.66,225.66 85.06,224.36 85.61,223.13 86.29,221.96 87.10,220.88 88.02,219.89 89.04,219.02 90.15,218.27 91.34,217.65 92.59,217.17 93.89,216.83 95.21,216.64 96.54,216.60 97.87,216.71 99.17,216.96 100.44,217.36 101.65,217.90 102.79,218.57 103.85,219.36 104.81,220.27 105.66,221.28 106.39,222.37 106.99,223.54 107.46,224.76 107.78,226.03 107.97,227.32 108.00,228.63 107.89,229.93 107.64,231.20 107.24,232.44" fill="none" stroke="#3134a4" stroke-width="0.55" stroke-opacity="1.0" stroke-linecap="round" stroke-linejoin="round"/>
<polyline points="107.67,231.05 107.29,232.30 106.78,233.49 106.13,234.61 105.37,235.65 104.49,236.60 103.51,237.44 102.45,238.17 101.31,238.77 100.12,239.24 98.88,239.57 97.62,239.76 96.34,239.81 95.07,239.71 93.82,239.47 92.60,239.09 91.44,238.59 90.34,237.95 89.33,237.20 88.40,236.34 87.58,235.38 86.88,234.33 86.29,233.22 85.84,232.05 85.52,230.84 85.34,229.60 85.30,228.35 85.39,227.11 85.63,225.89 86.00,224.70 86.51,223.57 87.13,222.50 87.87,221.51 88.72,220.61 89.66,219.81 90.68,219.12 91.77,218.55 92.91,218.11 94.10,217.81 95.31,217.63 96.53,217.60 97.74,217.70 98.94,217.93 100.10,218.30 101.20,218.80 102.25,219.41 103.21,220.14 104.09,220.97 104.87,221.89 105.53,222.89 106.08,223.96 106.51,225.08 106.81,226.24 106.97,227.42 107.00,228.61 106.90,229.80 106.66,230.96 106.30,232.09" fill="none" stroke="#3134a4" stroke-width="0.46" stroke-opacity="1.0" stroke-linecap="round" stroke-linejoin="round"/>
<polyline points="106.70,230.83 106.35,231.96 105.88,233.04 105.29,234.07 104.59,235.02 103.79,235.88 102.90,236.65 101.94,237.31 100.90,237.86 99.81,238.28 98.69,238.59 97.54,238.76 96.37,238.81 95.22,238.72 94.08,238.51 92.97,238.17 91.91,237.70 90.92,237.13 89.99,236.45 89.15,235.67 88.40,234.80 87.75,233.85 87.22,232.84 86.80,231.78 86.51,230.68 86.34,229.56 86.29,228.42 86.38,227.30 86.59,226.18 86.92,225.11 87.37,224.07 87.93,223.10 88.60,222.20 89.36,221.37 90.21,220.65 91.13,220.02 92.12,219.50 93.15,219.09 94.22,218.80 95.32,218.64 96.42,218.59 97.53,218.68 98.61,218.88 99.66,219.21 100.67,219.65 101.62,220.19 102.50,220.84 103.30,221.59 104.01,222.41 104.62,223.31 105.13,224.27 105.53,225.28 105.81,226.33 105.97,227.40 106.01,228.47 105.92,229.55 105.72,230.60" fill="none" stroke="#3134a4" stroke-width="0.36" stroke-opacity="0.85" stroke-linecap="round" stroke-linejoin="round"/>
<circle cx="64.30" cy="256.45" r="14.2" fill="#fff"/>
<polyline points="62.83,239.69 64.74,239.84 66.59,240.19 68.36,240.73 70.05,241.47 71.62,242.38 73.07,243.45 74.37,244.66 75.52,245.99 76.50,247.42 77.32,248.93 77.95,250.51 78.41,252.13 78.71,253.78 78.88,255.43 78.89,257.09 78.70,258.73 78.33,260.34 77.79,261.90 77.07,263.38 76.18,264.77 75.15,266.05 73.98,267.21 72.69,268.22 71.30,269.08 69.82,269.77 68.27,270.29 66.67,270.64 65.05,270.79 63.42,270.77 61.81,270.56 60.24,270.17 58.72,269.61 57.27,268.87 55.92,267.98 54.68,266.95 53.57,265.78 52.60,264.49 51.78,263.11 51.12,261.64 50.63,260.11 50.33,258.54 50.20,256.94 50.25,255.34 50.48,253.76 50.89,252.22 51.47,250.74 52.22,249.33 53.12,248.02 54.16,246.82 55.32,245.75 56.60,244.82 57.98,244.04 59.43,243.42 60.94,242.97 62.49,242.69 64.06,242.59 65.63,242.67 67.17,242.93 68.68,243.36 70.13,243.96 71.49,244.71 72.77,245.61 73.93,246.66 74.96,247.82 75.85,249.09 76.59,250.45 77.18,251.89 77.59,253.38 77.84,254.91 77.91,256.45 77.80,257.99 77.52,259.50" fill="none" stroke="#3134a4" stroke-width="1.7" stroke-opacity="1.0" stroke-linecap="round" stroke-linejoin="round"/>
<polyline points="77.52,259.50 77.08,260.96 76.48,262.36 75.72,263.68 74.82,264.90 73.80,266.02 72.65,267.01 71.41,267.86 70.07,268.57 68.67,269.13 67.22,269.52 65.73,269.75 64.23,269.81 62.73,269.69 61.26,269.42 59.83,268.98 58.46,268.38 57.17,267.64 55.97,266.75 54.88,265.74 53.91,264.61 53.08,263.39 52.38,262.08 51.85,260.70 51.47,259.27 51.25,257.81 51.20,256.34 51.31,254.87 51.59,253.43 52.02,252.02 52.61,250.68 53.35,249.42 54.22,248.24 55.22,247.18 56.33,246.23 57.53,245.42 58.82,244.74 60.17,244.22 61.58,243.85 63.01,243.64 64.45,243.60 65.89,243.71 67.31,243.99 68.68,244.42 69.99,245.01 71.23,245.73 72.38,246.59 73.42,247.57 74.35,248.66 75.14,249.85 75.80,251.11 76.31,252.44 76.66,253.82 76.86,255.23 76.90,256.64 76.78,258.05 76.51,259.44 76.08,260.78" fill="none" stroke="#3134a4" stroke-width="0.62" stroke-opacity="1.0" stroke-linecap="round" stroke-linejoin="round"/>
<polyline points="76.55,259.28 76.14,260.63 75.58,261.92 74.88,263.14 74.04,264.28 73.09,265.31 72.03,266.22 70.88,267.01 69.64,267.67 68.34,268.18 67.00,268.54 65.62,268.75 64.23,268.81 62.85,268.70 61.49,268.44 60.17,268.04 58.90,267.48 57.71,266.79 56.60,265.97 55.59,265.04 54.70,264.00 53.93,262.86 53.29,261.65 52.79,260.37 52.44,259.05 52.24,257.71 52.20,256.35 52.30,254.99 52.56,253.66 52.96,252.36 53.51,251.13 54.19,249.96 55.00,248.88 55.92,247.89 56.94,247.02 58.05,246.27 59.24,245.65 60.49,245.17 61.79,244.83 63.11,244.64 64.44,244.60 65.77,244.71 67.07,244.96 68.34,245.36 69.55,245.90 70.69,246.57 71.75,247.36 72.71,248.27 73.56,249.28 74.29,250.37 74.89,251.54 75.36,252.76 75.68,254.03 75.87,255.32 75.90,256.63 75.79,257.93 75.54,259.20 75.14,260.44" fill="none" stroke="#3134a4" stroke-width="0.55" stroke-opacity="1.0" stroke-linecap="round" stroke-linejoin="round"/>
<polyline points="75.57,259.05 75.19,260.30 74.68,261.49 74.03,262.61 73.27,263.65 72.39,264.60 71.41,265.44 70.35,266.17 69.21,266.77 68.02,267.24 66.78,267.57 65.52,267.76 64.24,267.81 62.97,267.71 61.72,267.47 60.50,267.09 59.34,266.59 58.24,265.95 57.23,265.20 56.30,264.34 55.48,263.38 54.78,262.33 54.19,261.22 53.74,260.05 53.42,258.84 53.24,257.60 53.20,256.35 53.29,255.11 53.53,253.89 53.90,252.70 54.41,251.57 55.03,250.50 55.77,249.51 56.62,248.61 57.56,247.81 58.58,247.12 59.67,246.55 60.81,246.11 62.00,245.81 63.21,245.63 64.43,245.60 65.64,245.70 66.84,245.93 68.00,246.30 69.10,246.80 70.15,247.41 71.11,248.14 71.99,248.97 72.77,249.89 73.43,250.89 73.98,251.96 74.41,253.08 74.71,254.24 74.87,255.42 74.90,256.61 74.80,257.80 74.56,258.96 74.20,260.09" fill="none" stroke="#3134a4" stroke-width="0.46" stroke-opacity="1.0" stroke-linecap="round" stroke-linejoin="round"/>
<polyline points="74.60,258.83 74.25,259.96 73.78,261.04 73.19,262.07 72.49,263.02 71.69,263.88 70.80,264.65 69.84,265.31 68.80,265.86 67.71,266.28 66.59,266.59 65.44,266.76 64.27,266.81 63.12,266.72 61.98,266.51 60.87,266.17 59.81,265.70 58.82,265.13 57.89,264.45 57.05,263.67 56.30,262.80 55.65,261.85 55.12,260.84 54.70,259.78 54.41,258.68 54.24,257.56 54.19,256.42 54.28,255.30 54.49,254.18 54.82,253.11 55.27,252.07 55.83,251.10 56.50,250.20 57.26,249.37 58.11,248.65 59.03,248.02 60.02,247.50 61.05,247.09 62.12,246.80 63.22,246.64 64.32,246.59 65.43,246.68 66.51,246.88 67.56,247.21 68.57,247.65 69.52,248.19 70.40,248.84 71.20,249.59 71.91,250.41 72.52,251.31 73.03,252.27 73.43,253.28 73.71,254.33 73.87,255.40 73.91,256.47 73.82,257.55 73.62,258.60" fill="none" stroke="#3134a4" stroke-width="0.36" stroke-opacity="0.85" stroke-linecap="round" stroke-linejoin="round"/>
<text x="54.60" y="230.70" font-size="10" text-anchor="start" font-weight="normal" font-style="normal" fill="#1a1a1a" ><tspan font-style="italic">n</tspan> =1</text>
<path d="M93.4 259.6 L90.93 255.97" stroke="#111" stroke-width="1.2" fill="none"/>
<path d="M88.90 253.00 L94.68 256.32 L91.33 256.57 L89.88 259.59 z" fill="#111"/>
<text x="93.20" y="267.00" font-size="10" text-anchor="start" font-weight="normal" font-style="normal" fill="#1a1a1a" ><tspan font-style="italic">p</tspan> =~4 nm</text>
<text x="63.80" y="282.80" font-size="10" text-anchor="middle" font-weight="normal" font-style="normal" fill="#1a1a1a" >Pore nucleation</text>
<text x="63.80" y="293.60" font-size="10" text-anchor="middle" font-weight="normal" font-style="normal" fill="#1a1a1a" >2 unit-blocks</text>
<circle cx="149.20" cy="185.85" r="14.2" fill="#fff"/>
<polyline points="147.73,169.09 149.64,169.24 151.49,169.59 153.26,170.13 154.95,170.87 156.52,171.78 157.97,172.85 159.27,174.06 160.42,175.39 161.40,176.82 162.22,178.33 162.85,179.91 163.31,181.53 163.61,183.18 163.78,184.83 163.79,186.49 163.60,188.13 163.23,189.74 162.69,191.30 161.97,192.78 161.08,194.17 160.05,195.45 158.88,196.61 157.59,197.62 156.20,198.48 154.72,199.17 153.17,199.69 151.57,200.04 149.95,200.19 148.32,200.17 146.71,199.96 145.14,199.57 143.62,199.01 142.17,198.27 140.82,197.38 139.58,196.35 138.47,195.18 137.50,193.89 136.68,192.51 136.02,191.04 135.53,189.51 135.23,187.94 135.10,186.34 135.15,184.74 135.38,183.16 135.79,181.62 136.37,180.14 137.12,178.73 138.02,177.42 139.06,176.22 140.22,175.15 141.50,174.22 142.88,173.44 144.33,172.82 145.84,172.37 147.39,172.09 148.96,171.99 150.53,172.07 152.07,172.33 153.58,172.76 155.03,173.36 156.39,174.11 157.67,175.01 158.83,176.06 159.86,177.22 160.75,178.49 161.49,179.85 162.08,181.29 162.49,182.78 162.74,184.31 162.81,185.85 162.70,187.39 162.42,188.90" fill="none" stroke="#0da455" stroke-width="1.7" stroke-opacity="1.0" stroke-linecap="round" stroke-linejoin="round"/>
<polyline points="162.42,188.90 161.98,190.36 161.38,191.76 160.62,193.08 159.72,194.30 158.70,195.42 157.55,196.41 156.31,197.26 154.97,197.97 153.57,198.53 152.12,198.92 150.63,199.15 149.13,199.21 147.63,199.09 146.16,198.82 144.73,198.38 143.36,197.78 142.07,197.04 140.87,196.15 139.78,195.14 138.81,194.01 137.98,192.79 137.28,191.48 136.75,190.10 136.37,188.67 136.15,187.21 136.10,185.74 136.21,184.27 136.49,182.83 136.92,181.42 137.51,180.08 138.25,178.82 139.12,177.64 140.12,176.58 141.23,175.63 142.43,174.82 143.72,174.14 145.07,173.62 146.48,173.25 147.91,173.04 149.35,173.00 150.79,173.11 152.21,173.39 153.58,173.82 154.89,174.41 156.13,175.13 157.28,175.99 158.32,176.97 159.25,178.06 160.04,179.25 160.70,180.51 161.21,181.84 161.56,183.22 161.76,184.63 161.80,186.04 161.68,187.45 161.41,188.84 160.98,190.18" fill="none" stroke="#0da455" stroke-width="0.62" stroke-opacity="1.0" stroke-linecap="round" stroke-linejoin="round"/>
<polyline points="161.45,188.68 161.04,190.03 160.48,191.32 159.78,192.54 158.94,193.68 157.99,194.71 156.93,195.62 155.78,196.41 154.54,197.07 153.24,197.58 151.90,197.94 150.52,198.15 149.13,198.21 147.75,198.10 146.39,197.84 145.07,197.44 143.80,196.88 142.61,196.19 141.50,195.37 140.49,194.44 139.60,193.40 138.83,192.26 138.19,191.05 137.69,189.77 137.34,188.45 137.14,187.11 137.10,185.75 137.20,184.39 137.46,183.06 137.86,181.76 138.41,180.53 139.09,179.36 139.90,178.28 140.82,177.29 141.84,176.42 142.95,175.67 144.14,175.05 145.39,174.57 146.69,174.23 148.01,174.04 149.34,174.00 150.67,174.11 151.97,174.36 153.24,174.76 154.45,175.30 155.59,175.97 156.65,176.76 157.61,177.67 158.46,178.68 159.19,179.77 159.79,180.94 160.26,182.16 160.58,183.43 160.77,184.72 160.80,186.03 160.69,187.33 160.44,188.60 160.04,189.84" fill="none" stroke="#0da455" stroke-width="0.55" stroke-opacity="1.0" stroke-linecap="round" stroke-linejoin="round"/>
<polyline points="160.47,188.45 160.09,189.70 159.58,190.89 158.93,192.01 158.17,193.05 157.29,194.00 156.31,194.84 155.25,195.57 154.11,196.17 152.92,196.64 151.68,196.97 150.42,197.16 149.14,197.21 147.87,197.11 146.62,196.87 145.40,196.49 144.24,195.99 143.14,195.35 142.13,194.60 141.20,193.74 140.38,192.78 139.68,191.73 139.09,190.62 138.64,189.45 138.32,188.24 138.14,187.00 138.10,185.75 138.19,184.51 138.43,183.29 138.80,182.10 139.31,180.97 139.93,179.90 140.67,178.91 141.52,178.01 142.46,177.21 143.48,176.52 144.57,175.95 145.71,175.51 146.90,175.21 148.11,175.03 149.33,175.00 150.54,175.10 151.74,175.33 152.90,175.70 154.00,176.20 155.05,176.81 156.01,177.54 156.89,178.37 157.67,179.29 158.33,180.29 158.88,181.36 159.31,182.48 159.61,183.64 159.77,184.82 159.80,186.01 159.70,187.20 159.46,188.36 159.10,189.49" fill="none" stroke="#0da455" stroke-width="0.46" stroke-opacity="1.0" stroke-linecap="round" stroke-linejoin="round"/>
<polyline points="159.50,188.23 159.15,189.36 158.68,190.44 158.09,191.47 157.39,192.42 156.59,193.28 155.70,194.05 154.74,194.71 153.70,195.26 152.61,195.68 151.49,195.99 150.34,196.16 149.17,196.21 148.02,196.12 146.88,195.91 145.77,195.57 144.71,195.10 143.72,194.53 142.79,193.85 141.95,193.07 141.20,192.20 140.55,191.25 140.02,190.24 139.60,189.18 139.31,188.08 139.14,186.96 139.09,185.82 139.18,184.70 139.39,183.58 139.72,182.51 140.17,181.47 140.73,180.50 141.40,179.60 142.16,178.77 143.01,178.05 143.93,177.42 144.92,176.90 145.95,176.49 147.02,176.20 148.12,176.04 149.22,175.99 150.33,176.08 151.41,176.28 152.46,176.61 153.47,177.05 154.42,177.59 155.30,178.24 156.10,178.99 156.81,179.81 157.42,180.71 157.93,181.67 158.33,182.68 158.61,183.73 158.77,184.80 158.81,185.87 158.72,186.95 158.52,188.00" fill="none" stroke="#0da455" stroke-width="0.36" stroke-opacity="0.85" stroke-linecap="round" stroke-linejoin="round"/>
<circle cx="178.80" cy="206.65" r="14.2" fill="#fff"/>
<polyline points="177.33,189.89 179.24,190.04 181.09,190.39 182.86,190.93 184.55,191.67 186.12,192.58 187.57,193.65 188.87,194.86 190.02,196.19 191.00,197.62 191.82,199.13 192.45,200.71 192.91,202.33 193.21,203.98 193.38,205.63 193.39,207.29 193.20,208.93 192.83,210.54 192.29,212.10 191.57,213.58 190.68,214.97 189.65,216.25 188.48,217.41 187.19,218.42 185.80,219.28 184.32,219.97 182.77,220.49 181.17,220.84 179.55,220.99 177.92,220.97 176.31,220.76 174.74,220.37 173.22,219.81 171.77,219.07 170.42,218.18 169.18,217.15 168.07,215.98 167.10,214.69 166.28,213.31 165.62,211.84 165.13,210.31 164.83,208.74 164.70,207.14 164.75,205.54 164.98,203.96 165.39,202.42 165.97,200.94 166.72,199.53 167.62,198.22 168.66,197.02 169.82,195.95 171.10,195.02 172.48,194.24 173.93,193.62 175.44,193.17 176.99,192.89 178.56,192.79 180.13,192.87 181.67,193.13 183.18,193.56 184.63,194.16 185.99,194.91 187.27,195.81 188.43,196.86 189.46,198.02 190.35,199.29 191.09,200.65 191.68,202.09 192.09,203.58 192.34,205.11 192.41,206.65 192.30,208.19 192.02,209.70" fill="none" stroke="#0da455" stroke-width="1.7" stroke-opacity="1.0" stroke-linecap="round" stroke-linejoin="round"/>
<polyline points="192.02,209.70 191.58,211.16 190.98,212.56 190.22,213.88 189.32,215.10 188.30,216.22 187.15,217.21 185.91,218.06 184.57,218.77 183.17,219.33 181.72,219.72 180.23,219.95 178.73,220.01 177.23,219.89 175.76,219.62 174.33,219.18 172.96,218.58 171.67,217.84 170.47,216.95 169.38,215.94 168.41,214.81 167.58,213.59 166.88,212.28 166.35,210.90 165.97,209.47 165.75,208.01 165.70,206.54 165.81,205.07 166.09,203.63 166.52,202.22 167.11,200.88 167.85,199.62 168.72,198.44 169.72,197.38 170.83,196.43 172.03,195.62 173.32,194.94 174.67,194.42 176.08,194.05 177.51,193.84 178.95,193.80 180.39,193.91 181.81,194.19 183.18,194.62 184.49,195.21 185.73,195.93 186.88,196.79 187.92,197.77 188.85,198.86 189.64,200.05 190.30,201.31 190.81,202.64 191.16,204.02 191.36,205.43 191.40,206.84 191.28,208.25 191.01,209.64 190.58,210.98" fill="none" stroke="#0da455" stroke-width="0.62" stroke-opacity="1.0" stroke-linecap="round" stroke-linejoin="round"/>
<polyline points="191.05,209.48 190.64,210.83 190.08,212.12 189.38,213.34 188.54,214.48 187.59,215.51 186.53,216.42 185.38,217.21 184.14,217.87 182.84,218.38 181.50,218.74 180.12,218.95 178.73,219.01 177.35,218.90 175.99,218.64 174.67,218.24 173.40,217.68 172.21,216.99 171.10,216.17 170.09,215.24 169.20,214.20 168.43,213.06 167.79,211.85 167.29,210.57 166.94,209.25 166.74,207.91 166.70,206.55 166.80,205.19 167.06,203.86 167.46,202.56 168.01,201.33 168.69,200.16 169.50,199.08 170.42,198.09 171.44,197.22 172.55,196.47 173.74,195.85 174.99,195.37 176.29,195.03 177.61,194.84 178.94,194.80 180.27,194.91 181.57,195.16 182.84,195.56 184.05,196.10 185.19,196.77 186.25,197.56 187.21,198.47 188.06,199.48 188.79,200.57 189.39,201.74 189.86,202.96 190.18,204.23 190.37,205.52 190.40,206.83 190.29,208.13 190.04,209.40 189.64,210.64" fill="none" stroke="#0da455" stroke-width="0.55" stroke-opacity="1.0" stroke-linecap="round" stroke-linejoin="round"/>
<polyline points="190.07,209.25 189.69,210.50 189.18,211.69 188.53,212.81 187.77,213.85 186.89,214.80 185.91,215.64 184.85,216.37 183.71,216.97 182.52,217.44 181.28,217.77 180.02,217.96 178.74,218.01 177.47,217.91 176.22,217.67 175.00,217.29 173.84,216.79 172.74,216.15 171.73,215.40 170.80,214.54 169.98,213.58 169.28,212.53 168.69,211.42 168.24,210.25 167.92,209.04 167.74,207.80 167.70,206.55 167.79,205.31 168.03,204.09 168.40,202.90 168.91,201.77 169.53,200.70 170.27,199.71 171.12,198.81 172.06,198.01 173.08,197.32 174.17,196.75 175.31,196.31 176.50,196.01 177.71,195.83 178.93,195.80 180.14,195.90 181.34,196.13 182.50,196.50 183.60,197.00 184.65,197.61 185.61,198.34 186.49,199.17 187.27,200.09 187.93,201.09 188.48,202.16 188.91,203.28 189.21,204.44 189.37,205.62 189.40,206.81 189.30,208.00 189.06,209.16 188.70,210.29" fill="none" stroke="#0da455" stroke-width="0.46" stroke-opacity="1.0" stroke-linecap="round" stroke-linejoin="round"/>
<polyline points="189.10,209.03 188.75,210.16 188.28,211.24 187.69,212.27 186.99,213.22 186.19,214.08 185.30,214.85 184.34,215.51 183.30,216.06 182.21,216.48 181.09,216.79 179.94,216.96 178.77,217.01 177.62,216.92 176.48,216.71 175.37,216.37 174.31,215.90 173.32,215.33 172.39,214.65 171.55,213.87 170.80,213.00 170.15,212.05 169.62,211.04 169.20,209.98 168.91,208.88 168.74,207.76 168.69,206.62 168.78,205.50 168.99,204.38 169.32,203.31 169.77,202.27 170.33,201.30 171.00,200.40 171.76,199.57 172.61,198.85 173.53,198.22 174.52,197.70 175.55,197.29 176.62,197.00 177.72,196.84 178.82,196.79 179.93,196.88 181.01,197.08 182.06,197.41 183.07,197.85 184.02,198.39 184.90,199.04 185.70,199.79 186.41,200.61 187.02,201.51 187.53,202.47 187.93,203.48 188.21,204.53 188.37,205.60 188.41,206.67 188.32,207.75 188.12,208.80" fill="none" stroke="#0da455" stroke-width="0.36" stroke-opacity="0.85" stroke-linecap="round" stroke-linejoin="round"/>
<path d="M125.1 229.3 H205.2" stroke="#111" stroke-width="1.1" fill="none"/>
<path d="M209.2 229.3 l-5.6 -2.8 v5.6 z" fill="#111"/>
<text x="166.00" y="240.00" font-size="10" text-anchor="middle" font-weight="normal" font-style="normal" fill="#1a1a1a" >+1 unit-block</text>
<circle cx="272.9" cy="226.8" r="41.6" fill="none" stroke="#111" stroke-width="2.3"/>
<circle cx="274.70" cy="185.45" r="14.2" fill="#fff"/>
<polyline points="273.23,168.69 275.14,168.84 276.99,169.19 278.76,169.73 280.45,170.47 282.02,171.38 283.47,172.45 284.77,173.66 285.92,174.99 286.90,176.42 287.72,177.93 288.35,179.51 288.81,181.13 289.11,182.78 289.28,184.43 289.29,186.09 289.10,187.73 288.73,189.34 288.19,190.90 287.47,192.38 286.58,193.77 285.55,195.05 284.38,196.21 283.09,197.22 281.70,198.08 280.22,198.77 278.67,199.29 277.07,199.64 275.45,199.79 273.82,199.77 272.21,199.56 270.64,199.17 269.12,198.61 267.67,197.87 266.32,196.98 265.08,195.95 263.97,194.78 263.00,193.49 262.18,192.11 261.52,190.64 261.03,189.11 260.73,187.54 260.60,185.94 260.65,184.34 260.88,182.76 261.29,181.22 261.87,179.74 262.62,178.33 263.52,177.02 264.56,175.82 265.72,174.75 267.00,173.82 268.38,173.04 269.83,172.42 271.34,171.97 272.89,171.69 274.46,171.59 276.03,171.67 277.57,171.93 279.08,172.36 280.53,172.96 281.89,173.71 283.17,174.61 284.33,175.66 285.36,176.82 286.25,178.09 286.99,179.45 287.58,180.89 287.99,182.38 288.24,183.91 288.31,185.45 288.20,186.99 287.92,188.50" fill="none" stroke="#c4161c" stroke-width="1.7" stroke-opacity="1.0" stroke-linecap="round" stroke-linejoin="round"/>
<polyline points="287.92,188.50 287.48,189.96 286.88,191.36 286.12,192.68 285.22,193.90 284.20,195.02 283.05,196.01 281.81,196.86 280.47,197.57 279.07,198.13 277.62,198.52 276.13,198.75 274.63,198.81 273.13,198.69 271.66,198.42 270.23,197.98 268.86,197.38 267.57,196.64 266.37,195.75 265.28,194.74 264.31,193.61 263.48,192.39 262.78,191.08 262.25,189.70 261.87,188.27 261.65,186.81 261.60,185.34 261.71,183.87 261.99,182.43 262.42,181.02 263.01,179.68 263.75,178.42 264.62,177.24 265.62,176.18 266.73,175.23 267.93,174.42 269.22,173.74 270.57,173.22 271.98,172.85 273.41,172.64 274.85,172.60 276.29,172.71 277.71,172.99 279.08,173.42 280.39,174.01 281.63,174.73 282.78,175.59 283.82,176.57 284.75,177.66 285.54,178.85 286.20,180.11 286.71,181.44 287.06,182.82 287.26,184.23 287.30,185.64 287.18,187.05 286.91,188.44 286.48,189.78" fill="none" stroke="#c4161c" stroke-width="0.62" stroke-opacity="1.0" stroke-linecap="round" stroke-linejoin="round"/>
<polyline points="286.95,188.28 286.54,189.63 285.98,190.92 285.28,192.14 284.44,193.28 283.49,194.31 282.43,195.22 281.28,196.01 280.04,196.67 278.74,197.18 277.40,197.54 276.02,197.75 274.63,197.81 273.25,197.70 271.89,197.44 270.57,197.04 269.30,196.48 268.11,195.79 267.00,194.97 265.99,194.04 265.10,193.00 264.33,191.86 263.69,190.65 263.19,189.37 262.84,188.05 262.64,186.71 262.60,185.35 262.70,183.99 262.96,182.66 263.36,181.36 263.91,180.13 264.59,178.96 265.40,177.88 266.32,176.89 267.34,176.02 268.45,175.27 269.64,174.65 270.89,174.17 272.19,173.83 273.51,173.64 274.84,173.60 276.17,173.71 277.47,173.96 278.74,174.36 279.95,174.90 281.09,175.57 282.15,176.36 283.11,177.27 283.96,178.28 284.69,179.37 285.29,180.54 285.76,181.76 286.08,183.03 286.27,184.32 286.30,185.63 286.19,186.93 285.94,188.20 285.54,189.44" fill="none" stroke="#c4161c" stroke-width="0.55" stroke-opacity="1.0" stroke-linecap="round" stroke-linejoin="round"/>
<polyline points="285.97,188.05 285.59,189.30 285.08,190.49 284.43,191.61 283.67,192.65 282.79,193.60 281.81,194.44 280.75,195.17 279.61,195.77 278.42,196.24 277.18,196.57 275.92,196.76 274.64,196.81 273.37,196.71 272.12,196.47 270.90,196.09 269.74,195.59 268.64,194.95 267.63,194.20 266.70,193.34 265.88,192.38 265.18,191.33 264.59,190.22 264.14,189.05 263.82,187.84 263.64,186.60 263.60,185.35 263.69,184.11 263.93,182.89 264.30,181.70 264.81,180.57 265.43,179.50 266.17,178.51 267.02,177.61 267.96,176.81 268.98,176.12 270.07,175.55 271.21,175.11 272.40,174.81 273.61,174.63 274.83,174.60 276.04,174.70 277.24,174.93 278.40,175.30 279.50,175.80 280.55,176.41 281.51,177.14 282.39,177.97 283.17,178.89 283.83,179.89 284.38,180.96 284.81,182.08 285.11,183.24 285.27,184.42 285.30,185.61 285.20,186.80 284.96,187.96 284.60,189.09" fill="none" stroke="#c4161c" stroke-width="0.46" stroke-opacity="1.0" stroke-linecap="round" stroke-linejoin="round"/>
<polyline points="285.00,187.83 284.65,188.96 284.18,190.04 283.59,191.07 282.89,192.02 282.09,192.88 281.20,193.65 280.24,194.31 279.20,194.86 278.11,195.28 276.99,195.59 275.84,195.76 274.67,195.81 273.52,195.72 272.38,195.51 271.27,195.17 270.21,194.70 269.22,194.13 268.29,193.45 267.45,192.67 266.70,191.80 266.05,190.85 265.52,189.84 265.10,188.78 264.81,187.68 264.64,186.56 264.59,185.42 264.68,184.30 264.89,183.18 265.22,182.11 265.67,181.07 266.23,180.10 266.90,179.20 267.66,178.37 268.51,177.65 269.43,177.02 270.42,176.50 271.45,176.09 272.52,175.80 273.62,175.64 274.72,175.59 275.83,175.68 276.91,175.88 277.96,176.21 278.97,176.65 279.92,177.19 280.80,177.84 281.60,178.59 282.31,179.41 282.92,180.31 283.43,181.27 283.83,182.28 284.11,183.33 284.27,184.40 284.31,185.47 284.22,186.55 284.02,187.60" fill="none" stroke="#c4161c" stroke-width="0.36" stroke-opacity="0.85" stroke-linecap="round" stroke-linejoin="round"/>
<circle cx="235.00" cy="208.65" r="14.2" fill="#fff"/>
<polyline points="233.53,191.89 235.44,192.04 237.29,192.39 239.06,192.93 240.75,193.67 242.32,194.58 243.77,195.65 245.07,196.86 246.22,198.19 247.20,199.62 248.02,201.13 248.65,202.71 249.11,204.33 249.41,205.98 249.58,207.63 249.59,209.29 249.40,210.93 249.03,212.54 248.49,214.10 247.77,215.58 246.88,216.97 245.85,218.25 244.68,219.41 243.39,220.42 242.00,221.28 240.52,221.97 238.97,222.49 237.37,222.84 235.75,222.99 234.12,222.97 232.51,222.76 230.94,222.37 229.42,221.81 227.97,221.07 226.62,220.18 225.38,219.15 224.27,217.98 223.30,216.69 222.48,215.31 221.82,213.84 221.33,212.31 221.03,210.74 220.90,209.14 220.95,207.54 221.18,205.96 221.59,204.42 222.17,202.94 222.92,201.53 223.82,200.22 224.86,199.02 226.02,197.95 227.30,197.02 228.68,196.24 230.13,195.62 231.64,195.17 233.19,194.89 234.76,194.79 236.33,194.87 237.87,195.13 239.38,195.56 240.83,196.16 242.19,196.91 243.47,197.81 244.63,198.86 245.66,200.02 246.55,201.29 247.29,202.65 247.88,204.09 248.29,205.58 248.54,207.11 248.61,208.65 248.50,210.19 248.22,211.70" fill="none" stroke="#c4161c" stroke-width="1.7" stroke-opacity="1.0" stroke-linecap="round" stroke-linejoin="round"/>
<polyline points="248.22,211.70 247.78,213.16 247.18,214.56 246.42,215.88 245.52,217.10 244.50,218.22 243.35,219.21 242.11,220.06 240.77,220.77 239.37,221.33 237.92,221.72 236.43,221.95 234.93,222.01 233.43,221.89 231.96,221.62 230.53,221.18 229.16,220.58 227.87,219.84 226.67,218.95 225.58,217.94 224.61,216.81 223.78,215.59 223.08,214.28 222.55,212.90 222.17,211.47 221.95,210.01 221.90,208.54 222.01,207.07 222.29,205.63 222.72,204.22 223.31,202.88 224.05,201.62 224.92,200.44 225.92,199.38 227.03,198.43 228.23,197.62 229.52,196.94 230.87,196.42 232.28,196.05 233.71,195.84 235.15,195.80 236.59,195.91 238.01,196.19 239.38,196.62 240.69,197.21 241.93,197.93 243.08,198.79 244.12,199.77 245.05,200.86 245.84,202.05 246.50,203.31 247.01,204.64 247.36,206.02 247.56,207.43 247.60,208.84 247.48,210.25 247.21,211.64 246.78,212.98" fill="none" stroke="#c4161c" stroke-width="0.62" stroke-opacity="1.0" stroke-linecap="round" stroke-linejoin="round"/>
<polyline points="247.25,211.48 246.84,212.83 246.28,214.12 245.58,215.34 244.74,216.48 243.79,217.51 242.73,218.42 241.58,219.21 240.34,219.87 239.04,220.38 237.70,220.74 236.32,220.95 234.93,221.01 233.55,220.90 232.19,220.64 230.87,220.24 229.60,219.68 228.41,218.99 227.30,218.17 226.29,217.24 225.40,216.20 224.63,215.06 223.99,213.85 223.49,212.57 223.14,211.25 222.94,209.91 222.90,208.55 223.00,207.19 223.26,205.86 223.66,204.56 224.21,203.33 224.89,202.16 225.70,201.08 226.62,200.09 227.64,199.22 228.75,198.47 229.94,197.85 231.19,197.37 232.49,197.03 233.81,196.84 235.14,196.80 236.47,196.91 237.77,197.16 239.04,197.56 240.25,198.10 241.39,198.77 242.45,199.56 243.41,200.47 244.26,201.48 244.99,202.57 245.59,203.74 246.06,204.96 246.38,206.23 246.57,207.52 246.60,208.83 246.49,210.13 246.24,211.40 245.84,212.64" fill="none" stroke="#c4161c" stroke-width="0.55" stroke-opacity="1.0" stroke-linecap="round" stroke-linejoin="round"/>
<polyline points="246.27,211.25 245.89,212.50 245.38,213.69 244.73,214.81 243.97,215.85 243.09,216.80 242.11,217.64 241.05,218.37 239.91,218.97 238.72,219.44 237.48,219.77 236.22,219.96 234.94,220.01 233.67,219.91 232.42,219.67 231.20,219.29 230.04,218.79 228.94,218.15 227.93,217.40 227.00,216.54 226.18,215.58 225.48,214.53 224.89,213.42 224.44,212.25 224.12,211.04 223.94,209.80 223.90,208.55 223.99,207.31 224.23,206.09 224.60,204.90 225.11,203.77 225.73,202.70 226.47,201.71 227.32,200.81 228.26,200.01 229.28,199.32 230.37,198.75 231.51,198.31 232.70,198.01 233.91,197.83 235.13,197.80 236.34,197.90 237.54,198.13 238.70,198.50 239.80,199.00 240.85,199.61 241.81,200.34 242.69,201.17 243.47,202.09 244.13,203.09 244.68,204.16 245.11,205.28 245.41,206.44 245.57,207.62 245.60,208.81 245.50,210.00 245.26,211.16 244.90,212.29" fill="none" stroke="#c4161c" stroke-width="0.46" stroke-opacity="1.0" stroke-linecap="round" stroke-linejoin="round"/>
<polyline points="245.30,211.03 244.95,212.16 244.48,213.24 243.89,214.27 243.19,215.22 242.39,216.08 241.50,216.85 240.54,217.51 239.50,218.06 238.41,218.48 237.29,218.79 236.14,218.96 234.97,219.01 233.82,218.92 232.68,218.71 231.57,218.37 230.51,217.90 229.52,217.33 228.59,216.65 227.75,215.87 227.00,215.00 226.35,214.05 225.82,213.04 225.40,211.98 225.11,210.88 224.94,209.76 224.89,208.62 224.98,207.50 225.19,206.38 225.52,205.31 225.97,204.27 226.53,203.30 227.20,202.40 227.96,201.57 228.81,200.85 229.73,200.22 230.72,199.70 231.75,199.29 232.82,199.00 233.92,198.84 235.02,198.79 236.13,198.88 237.21,199.08 238.26,199.41 239.27,199.85 240.22,200.39 241.10,201.04 241.90,201.79 242.61,202.61 243.22,203.51 243.73,204.47 244.13,205.48 244.41,206.53 244.57,207.60 244.61,208.67 244.52,209.75 244.32,210.80" fill="none" stroke="#c4161c" stroke-width="0.36" stroke-opacity="0.85" stroke-linecap="round" stroke-linejoin="round"/>
<circle cx="310.20" cy="208.65" r="14.2" fill="#fff"/>
<polyline points="308.73,191.89 310.64,192.04 312.49,192.39 314.26,192.93 315.95,193.67 317.52,194.58 318.97,195.65 320.27,196.86 321.42,198.19 322.40,199.62 323.22,201.13 323.85,202.71 324.31,204.33 324.61,205.98 324.78,207.63 324.79,209.29 324.60,210.93 324.23,212.54 323.69,214.10 322.97,215.58 322.08,216.97 321.05,218.25 319.88,219.41 318.59,220.42 317.20,221.28 315.72,221.97 314.17,222.49 312.57,222.84 310.95,222.99 309.32,222.97 307.71,222.76 306.14,222.37 304.62,221.81 303.17,221.07 301.82,220.18 300.58,219.15 299.47,217.98 298.50,216.69 297.68,215.31 297.02,213.84 296.53,212.31 296.23,210.74 296.10,209.14 296.15,207.54 296.38,205.96 296.79,204.42 297.37,202.94 298.12,201.53 299.02,200.22 300.06,199.02 301.22,197.95 302.50,197.02 303.88,196.24 305.33,195.62 306.84,195.17 308.39,194.89 309.96,194.79 311.53,194.87 313.07,195.13 314.58,195.56 316.03,196.16 317.39,196.91 318.67,197.81 319.83,198.86 320.86,200.02 321.75,201.29 322.49,202.65 323.08,204.09 323.49,205.58 323.74,207.11 323.81,208.65 323.70,210.19 323.42,211.70" fill="none" stroke="#0da455" stroke-width="1.7" stroke-opacity="1.0" stroke-linecap="round" stroke-linejoin="round"/>
<polyline points="323.42,211.70 322.98,213.16 322.38,214.56 321.62,215.88 320.72,217.10 319.70,218.22 318.55,219.21 317.31,220.06 315.97,220.77 314.57,221.33 313.12,221.72 311.63,221.95 310.13,222.01 308.63,221.89 307.16,221.62 305.73,221.18 304.36,220.58 303.07,219.84 301.87,218.95 300.78,217.94 299.81,216.81 298.98,215.59 298.28,214.28 297.75,212.90 297.37,211.47 297.15,210.01 297.10,208.54 297.21,207.07 297.49,205.63 297.92,204.22 298.51,202.88 299.25,201.62 300.12,200.44 301.12,199.38 302.23,198.43 303.43,197.62 304.72,196.94 306.07,196.42 307.48,196.05 308.91,195.84 310.35,195.80 311.79,195.91 313.21,196.19 314.58,196.62 315.89,197.21 317.13,197.93 318.28,198.79 319.32,199.77 320.25,200.86 321.04,202.05 321.70,203.31 322.21,204.64 322.56,206.02 322.76,207.43 322.80,208.84 322.68,210.25 322.41,211.64 321.98,212.98" fill="none" stroke="#0da455" stroke-width="0.62" stroke-opacity="1.0" stroke-linecap="round" stroke-linejoin="round"/>
<polyline points="322.45,211.48 322.04,212.83 321.48,214.12 320.78,215.34 319.94,216.48 318.99,217.51 317.93,218.42 316.78,219.21 315.54,219.87 314.24,220.38 312.90,220.74 311.52,220.95 310.13,221.01 308.75,220.90 307.39,220.64 306.07,220.24 304.80,219.68 303.61,218.99 302.50,218.17 301.49,217.24 300.60,216.20 299.83,215.06 299.19,213.85 298.69,212.57 298.34,211.25 298.14,209.91 298.10,208.55 298.20,207.19 298.46,205.86 298.86,204.56 299.41,203.33 300.09,202.16 300.90,201.08 301.82,200.09 302.84,199.22 303.95,198.47 305.14,197.85 306.39,197.37 307.69,197.03 309.01,196.84 310.34,196.80 311.67,196.91 312.97,197.16 314.24,197.56 315.45,198.10 316.59,198.77 317.65,199.56 318.61,200.47 319.46,201.48 320.19,202.57 320.79,203.74 321.26,204.96 321.58,206.23 321.77,207.52 321.80,208.83 321.69,210.13 321.44,211.40 321.04,212.64" fill="none" stroke="#0da455" stroke-width="0.55" stroke-opacity="1.0" stroke-linecap="round" stroke-linejoin="round"/>
<polyline points="321.47,211.25 321.09,212.50 320.58,213.69 319.93,214.81 319.17,215.85 318.29,216.80 317.31,217.64 316.25,218.37 315.11,218.97 313.92,219.44 312.68,219.77 311.42,219.96 310.14,220.01 308.87,219.91 307.62,219.67 306.40,219.29 305.24,218.79 304.14,218.15 303.13,217.40 302.20,216.54 301.38,215.58 300.68,214.53 300.09,213.42 299.64,212.25 299.32,211.04 299.14,209.80 299.10,208.55 299.19,207.31 299.43,206.09 299.80,204.90 300.31,203.77 300.93,202.70 301.67,201.71 302.52,200.81 303.46,200.01 304.48,199.32 305.57,198.75 306.71,198.31 307.90,198.01 309.11,197.83 310.33,197.80 311.54,197.90 312.74,198.13 313.90,198.50 315.00,199.00 316.05,199.61 317.01,200.34 317.89,201.17 318.67,202.09 319.33,203.09 319.88,204.16 320.31,205.28 320.61,206.44 320.77,207.62 320.80,208.81 320.70,210.00 320.46,211.16 320.10,212.29" fill="none" stroke="#0da455" stroke-width="0.46" stroke-opacity="1.0" stroke-linecap="round" stroke-linejoin="round"/>
<polyline points="320.50,211.03 320.15,212.16 319.68,213.24 319.09,214.27 318.39,215.22 317.59,216.08 316.70,216.85 315.74,217.51 314.70,218.06 313.61,218.48 312.49,218.79 311.34,218.96 310.17,219.01 309.02,218.92 307.88,218.71 306.77,218.37 305.71,217.90 304.72,217.33 303.79,216.65 302.95,215.87 302.20,215.00 301.55,214.05 301.02,213.04 300.60,211.98 300.31,210.88 300.14,209.76 300.09,208.62 300.18,207.50 300.39,206.38 300.72,205.31 301.17,204.27 301.73,203.30 302.40,202.40 303.16,201.57 304.01,200.85 304.93,200.22 305.92,199.70 306.95,199.29 308.02,199.00 309.12,198.84 310.22,198.79 311.33,198.88 312.41,199.08 313.46,199.41 314.47,199.85 315.42,200.39 316.30,201.04 317.10,201.79 317.81,202.61 318.42,203.51 318.93,204.47 319.33,205.48 319.61,206.53 319.77,207.60 319.81,208.67 319.72,209.75 319.52,210.80" fill="none" stroke="#0da455" stroke-width="0.36" stroke-opacity="0.85" stroke-linecap="round" stroke-linejoin="round"/>
<circle cx="310.20" cy="248.75" r="14.2" fill="#fff"/>
<polyline points="308.73,231.99 310.64,232.14 312.49,232.49 314.26,233.03 315.95,233.77 317.52,234.68 318.97,235.75 320.27,236.96 321.42,238.29 322.40,239.72 323.22,241.23 323.85,242.81 324.31,244.43 324.61,246.08 324.78,247.73 324.79,249.39 324.60,251.03 324.23,252.64 323.69,254.20 322.97,255.68 322.08,257.07 321.05,258.35 319.88,259.51 318.59,260.52 317.20,261.38 315.72,262.07 314.17,262.59 312.57,262.94 310.95,263.09 309.32,263.07 307.71,262.86 306.14,262.47 304.62,261.91 303.17,261.17 301.82,260.28 300.58,259.25 299.47,258.08 298.50,256.79 297.68,255.41 297.02,253.94 296.53,252.41 296.23,250.84 296.10,249.24 296.15,247.64 296.38,246.06 296.79,244.52 297.37,243.04 298.12,241.63 299.02,240.32 300.06,239.12 301.22,238.05 302.50,237.12 303.88,236.34 305.33,235.72 306.84,235.27 308.39,234.99 309.96,234.89 311.53,234.97 313.07,235.23 314.58,235.66 316.03,236.26 317.39,237.01 318.67,237.91 319.83,238.96 320.86,240.12 321.75,241.39 322.49,242.75 323.08,244.19 323.49,245.68 323.74,247.21 323.81,248.75 323.70,250.29 323.42,251.80" fill="none" stroke="#0da455" stroke-width="1.7" stroke-opacity="1.0" stroke-linecap="round" stroke-linejoin="round"/>
<polyline points="323.42,251.80 322.98,253.26 322.38,254.66 321.62,255.98 320.72,257.20 319.70,258.32 318.55,259.31 317.31,260.16 315.97,260.87 314.57,261.43 313.12,261.82 311.63,262.05 310.13,262.11 308.63,261.99 307.16,261.72 305.73,261.28 304.36,260.68 303.07,259.94 301.87,259.05 300.78,258.04 299.81,256.91 298.98,255.69 298.28,254.38 297.75,253.00 297.37,251.57 297.15,250.11 297.10,248.64 297.21,247.17 297.49,245.73 297.92,244.32 298.51,242.98 299.25,241.72 300.12,240.54 301.12,239.48 302.23,238.53 303.43,237.72 304.72,237.04 306.07,236.52 307.48,236.15 308.91,235.94 310.35,235.90 311.79,236.01 313.21,236.29 314.58,236.72 315.89,237.31 317.13,238.03 318.28,238.89 319.32,239.87 320.25,240.96 321.04,242.15 321.70,243.41 322.21,244.74 322.56,246.12 322.76,247.53 322.80,248.94 322.68,250.35 322.41,251.74 321.98,253.08" fill="none" stroke="#0da455" stroke-width="0.62" stroke-opacity="1.0" stroke-linecap="round" stroke-linejoin="round"/>
<polyline points="322.45,251.58 322.04,252.93 321.48,254.22 320.78,255.44 319.94,256.58 318.99,257.61 317.93,258.52 316.78,259.31 315.54,259.97 314.24,260.48 312.90,260.84 311.52,261.05 310.13,261.11 308.75,261.00 307.39,260.74 306.07,260.34 304.80,259.78 303.61,259.09 302.50,258.27 301.49,257.34 300.60,256.30 299.83,255.16 299.19,253.95 298.69,252.67 298.34,251.35 298.14,250.01 298.10,248.65 298.20,247.29 298.46,245.96 298.86,244.66 299.41,243.43 300.09,242.26 300.90,241.18 301.82,240.19 302.84,239.32 303.95,238.57 305.14,237.95 306.39,237.47 307.69,237.13 309.01,236.94 310.34,236.90 311.67,237.01 312.97,237.26 314.24,237.66 315.45,238.20 316.59,238.87 317.65,239.66 318.61,240.57 319.46,241.58 320.19,242.67 320.79,243.84 321.26,245.06 321.58,246.33 321.77,247.62 321.80,248.93 321.69,250.23 321.44,251.50 321.04,252.74" fill="none" stroke="#0da455" stroke-width="0.55" stroke-opacity="1.0" stroke-linecap="round" stroke-linejoin="round"/>
<polyline points="321.47,251.35 321.09,252.60 320.58,253.79 319.93,254.91 319.17,255.95 318.29,256.90 317.31,257.74 316.25,258.47 315.11,259.07 313.92,259.54 312.68,259.87 311.42,260.06 310.14,260.11 308.87,260.01 307.62,259.77 306.40,259.39 305.24,258.89 304.14,258.25 303.13,257.50 302.20,256.64 301.38,255.68 300.68,254.63 300.09,253.52 299.64,252.35 299.32,251.14 299.14,249.90 299.10,248.65 299.19,247.41 299.43,246.19 299.80,245.00 300.31,243.87 300.93,242.80 301.67,241.81 302.52,240.91 303.46,240.11 304.48,239.42 305.57,238.85 306.71,238.41 307.90,238.11 309.11,237.93 310.33,237.90 311.54,238.00 312.74,238.23 313.90,238.60 315.00,239.10 316.05,239.71 317.01,240.44 317.89,241.27 318.67,242.19 319.33,243.19 319.88,244.26 320.31,245.38 320.61,246.54 320.77,247.72 320.80,248.91 320.70,250.10 320.46,251.26 320.10,252.39" fill="none" stroke="#0da455" stroke-width="0.46" stroke-opacity="1.0" stroke-linecap="round" stroke-linejoin="round"/>
<polyline points="320.50,251.13 320.15,252.26 319.68,253.34 319.09,254.37 318.39,255.32 317.59,256.18 316.70,256.95 315.74,257.61 314.70,258.16 313.61,258.58 312.49,258.89 311.34,259.06 310.17,259.11 309.02,259.02 307.88,258.81 306.77,258.47 305.71,258.00 304.72,257.43 303.79,256.75 302.95,255.97 302.20,255.10 301.55,254.15 301.02,253.14 300.60,252.08 300.31,250.98 300.14,249.86 300.09,248.72 300.18,247.60 300.39,246.48 300.72,245.41 301.17,244.37 301.73,243.40 302.40,242.50 303.16,241.67 304.01,240.95 304.93,240.32 305.92,239.80 306.95,239.39 308.02,239.10 309.12,238.94 310.22,238.89 311.33,238.98 312.41,239.18 313.46,239.51 314.47,239.95 315.42,240.49 316.30,241.14 317.10,241.89 317.81,242.71 318.42,243.61 318.93,244.57 319.33,245.58 319.61,246.63 319.77,247.70 319.81,248.77 319.72,249.85 319.52,250.90" fill="none" stroke="#0da455" stroke-width="0.36" stroke-opacity="0.85" stroke-linecap="round" stroke-linejoin="round"/>
<circle cx="274.70" cy="270.75" r="14.2" fill="#fff"/>
<polyline points="273.23,253.99 275.14,254.14 276.99,254.49 278.76,255.03 280.45,255.77 282.02,256.68 283.47,257.75 284.77,258.96 285.92,260.29 286.90,261.72 287.72,263.23 288.35,264.81 288.81,266.43 289.11,268.08 289.28,269.73 289.29,271.39 289.10,273.03 288.73,274.64 288.19,276.20 287.47,277.68 286.58,279.07 285.55,280.35 284.38,281.51 283.09,282.52 281.70,283.38 280.22,284.07 278.67,284.59 277.07,284.94 275.45,285.09 273.82,285.07 272.21,284.86 270.64,284.47 269.12,283.91 267.67,283.17 266.32,282.28 265.08,281.25 263.97,280.08 263.00,278.79 262.18,277.41 261.52,275.94 261.03,274.41 260.73,272.84 260.60,271.24 260.65,269.64 260.88,268.06 261.29,266.52 261.87,265.04 262.62,263.63 263.52,262.32 264.56,261.12 265.72,260.05 267.00,259.12 268.38,258.34 269.83,257.72 271.34,257.27 272.89,256.99 274.46,256.89 276.03,256.97 277.57,257.23 279.08,257.66 280.53,258.26 281.89,259.01 283.17,259.91 284.33,260.96 285.36,262.12 286.25,263.39 286.99,264.75 287.58,266.19 287.99,267.68 288.24,269.21 288.31,270.75 288.20,272.29 287.92,273.80" fill="none" stroke="#3134a4" stroke-width="1.7" stroke-opacity="1.0" stroke-linecap="round" stroke-linejoin="round"/>
<polyline points="287.92,273.80 287.48,275.26 286.88,276.66 286.12,277.98 285.22,279.20 284.20,280.32 283.05,281.31 281.81,282.16 280.47,282.87 279.07,283.43 277.62,283.82 276.13,284.05 274.63,284.11 273.13,283.99 271.66,283.72 270.23,283.28 268.86,282.68 267.57,281.94 266.37,281.05 265.28,280.04 264.31,278.91 263.48,277.69 262.78,276.38 262.25,275.00 261.87,273.57 261.65,272.11 261.60,270.64 261.71,269.17 261.99,267.73 262.42,266.32 263.01,264.98 263.75,263.72 264.62,262.54 265.62,261.48 266.73,260.53 267.93,259.72 269.22,259.04 270.57,258.52 271.98,258.15 273.41,257.94 274.85,257.90 276.29,258.01 277.71,258.29 279.08,258.72 280.39,259.31 281.63,260.03 282.78,260.89 283.82,261.87 284.75,262.96 285.54,264.15 286.20,265.41 286.71,266.74 287.06,268.12 287.26,269.53 287.30,270.94 287.18,272.35 286.91,273.74 286.48,275.08" fill="none" stroke="#3134a4" stroke-width="0.62" stroke-opacity="1.0" stroke-linecap="round" stroke-linejoin="round"/>
<polyline points="286.95,273.58 286.54,274.93 285.98,276.22 285.28,277.44 284.44,278.58 283.49,279.61 282.43,280.52 281.28,281.31 280.04,281.97 278.74,282.48 277.40,282.84 276.02,283.05 274.63,283.11 273.25,283.00 271.89,282.74 270.57,282.34 269.30,281.78 268.11,281.09 267.00,280.27 265.99,279.34 265.10,278.30 264.33,277.16 263.69,275.95 263.19,274.67 262.84,273.35 262.64,272.01 262.60,270.65 262.70,269.29 262.96,267.96 263.36,266.66 263.91,265.43 264.59,264.26 265.40,263.18 266.32,262.19 267.34,261.32 268.45,260.57 269.64,259.95 270.89,259.47 272.19,259.13 273.51,258.94 274.84,258.90 276.17,259.01 277.47,259.26 278.74,259.66 279.95,260.20 281.09,260.87 282.15,261.66 283.11,262.57 283.96,263.58 284.69,264.67 285.29,265.84 285.76,267.06 286.08,268.33 286.27,269.62 286.30,270.93 286.19,272.23 285.94,273.50 285.54,274.74" fill="none" stroke="#3134a4" stroke-width="0.55" stroke-opacity="1.0" stroke-linecap="round" stroke-linejoin="round"/>
<polyline points="285.97,273.35 285.59,274.60 285.08,275.79 284.43,276.91 283.67,277.95 282.79,278.90 281.81,279.74 280.75,280.47 279.61,281.07 278.42,281.54 277.18,281.87 275.92,282.06 274.64,282.11 273.37,282.01 272.12,281.77 270.90,281.39 269.74,280.89 268.64,280.25 267.63,279.50 266.70,278.64 265.88,277.68 265.18,276.63 264.59,275.52 264.14,274.35 263.82,273.14 263.64,271.90 263.60,270.65 263.69,269.41 263.93,268.19 264.30,267.00 264.81,265.87 265.43,264.80 266.17,263.81 267.02,262.91 267.96,262.11 268.98,261.42 270.07,260.85 271.21,260.41 272.40,260.11 273.61,259.93 274.83,259.90 276.04,260.00 277.24,260.23 278.40,260.60 279.50,261.10 280.55,261.71 281.51,262.44 282.39,263.27 283.17,264.19 283.83,265.19 284.38,266.26 284.81,267.38 285.11,268.54 285.27,269.72 285.30,270.91 285.20,272.10 284.96,273.26 284.60,274.39" fill="none" stroke="#3134a4" stroke-width="0.46" stroke-opacity="1.0" stroke-linecap="round" stroke-linejoin="round"/>
<polyline points="285.00,273.13 284.65,274.26 284.18,275.34 283.59,276.37 282.89,277.32 282.09,278.18 281.20,278.95 280.24,279.61 279.20,280.16 278.11,280.58 276.99,280.89 275.84,281.06 274.67,281.11 273.52,281.02 272.38,280.81 271.27,280.47 270.21,280.00 269.22,279.43 268.29,278.75 267.45,277.97 266.70,277.10 266.05,276.15 265.52,275.14 265.10,274.08 264.81,272.98 264.64,271.86 264.59,270.72 264.68,269.60 264.89,268.48 265.22,267.41 265.67,266.37 266.23,265.40 266.90,264.50 267.66,263.67 268.51,262.95 269.43,262.32 270.42,261.80 271.45,261.39 272.52,261.10 273.62,260.94 274.72,260.89 275.83,260.98 276.91,261.18 277.96,261.51 278.97,261.95 279.92,262.49 280.80,263.14 281.60,263.89 282.31,264.71 282.92,265.61 283.43,266.57 283.83,267.58 284.11,268.63 284.27,269.70 284.31,270.77 284.22,271.85 284.02,272.90" fill="none" stroke="#3134a4" stroke-width="0.36" stroke-opacity="0.85" stroke-linecap="round" stroke-linejoin="round"/>
<circle cx="235.00" cy="248.35" r="14.2" fill="#fff"/>
<polyline points="233.53,231.59 235.44,231.74 237.29,232.09 239.06,232.63 240.75,233.37 242.32,234.28 243.77,235.35 245.07,236.56 246.22,237.89 247.20,239.32 248.02,240.83 248.65,242.41 249.11,244.03 249.41,245.68 249.58,247.33 249.59,248.99 249.40,250.63 249.03,252.24 248.49,253.80 247.77,255.28 246.88,256.67 245.85,257.95 244.68,259.11 243.39,260.12 242.00,260.98 240.52,261.67 238.97,262.19 237.37,262.54 235.75,262.69 234.12,262.67 232.51,262.46 230.94,262.07 229.42,261.51 227.97,260.77 226.62,259.88 225.38,258.85 224.27,257.68 223.30,256.39 222.48,255.01 221.82,253.54 221.33,252.01 221.03,250.44 220.90,248.84 220.95,247.24 221.18,245.66 221.59,244.12 222.17,242.64 222.92,241.23 223.82,239.92 224.86,238.72 226.02,237.65 227.30,236.72 228.68,235.94 230.13,235.32 231.64,234.87 233.19,234.59 234.76,234.49 236.33,234.57 237.87,234.83 239.38,235.26 240.83,235.86 242.19,236.61 243.47,237.51 244.63,238.56 245.66,239.72 246.55,240.99 247.29,242.35 247.88,243.79 248.29,245.28 248.54,246.81 248.61,248.35 248.50,249.89 248.22,251.40" fill="none" stroke="#3134a4" stroke-width="1.7" stroke-opacity="1.0" stroke-linecap="round" stroke-linejoin="round"/>
<polyline points="248.22,251.40 247.78,252.86 247.18,254.26 246.42,255.58 245.52,256.80 244.50,257.92 243.35,258.91 242.11,259.76 240.77,260.47 239.37,261.03 237.92,261.42 236.43,261.65 234.93,261.71 233.43,261.59 231.96,261.32 230.53,260.88 229.16,260.28 227.87,259.54 226.67,258.65 225.58,257.64 224.61,256.51 223.78,255.29 223.08,253.98 222.55,252.60 222.17,251.17 221.95,249.71 221.90,248.24 222.01,246.77 222.29,245.33 222.72,243.92 223.31,242.58 224.05,241.32 224.92,240.14 225.92,239.08 227.03,238.13 228.23,237.32 229.52,236.64 230.87,236.12 232.28,235.75 233.71,235.54 235.15,235.50 236.59,235.61 238.01,235.89 239.38,236.32 240.69,236.91 241.93,237.63 243.08,238.49 244.12,239.47 245.05,240.56 245.84,241.75 246.50,243.01 247.01,244.34 247.36,245.72 247.56,247.13 247.60,248.54 247.48,249.95 247.21,251.34 246.78,252.68" fill="none" stroke="#3134a4" stroke-width="0.62" stroke-opacity="1.0" stroke-linecap="round" stroke-linejoin="round"/>
<polyline points="247.25,251.18 246.84,252.53 246.28,253.82 245.58,255.04 244.74,256.18 243.79,257.21 242.73,258.12 241.58,258.91 240.34,259.57 239.04,260.08 237.70,260.44 236.32,260.65 234.93,260.71 233.55,260.60 232.19,260.34 230.87,259.94 229.60,259.38 228.41,258.69 227.30,257.87 226.29,256.94 225.40,255.90 224.63,254.76 223.99,253.55 223.49,252.27 223.14,250.95 222.94,249.61 222.90,248.25 223.00,246.89 223.26,245.56 223.66,244.26 224.21,243.03 224.89,241.86 225.70,240.78 226.62,239.79 227.64,238.92 228.75,238.17 229.94,237.55 231.19,237.07 232.49,236.73 233.81,236.54 235.14,236.50 236.47,236.61 237.77,236.86 239.04,237.26 240.25,237.80 241.39,238.47 242.45,239.26 243.41,240.17 244.26,241.18 244.99,242.27 245.59,243.44 246.06,244.66 246.38,245.93 246.57,247.22 246.60,248.53 246.49,249.83 246.24,251.10 245.84,252.34" fill="none" stroke="#3134a4" stroke-width="0.55" stroke-opacity="1.0" stroke-linecap="round" stroke-linejoin="round"/>
<polyline points="246.27,250.95 245.89,252.20 245.38,253.39 244.73,254.51 243.97,255.55 243.09,256.50 242.11,257.34 241.05,258.07 239.91,258.67 238.72,259.14 237.48,259.47 236.22,259.66 234.94,259.71 233.67,259.61 232.42,259.37 231.20,258.99 230.04,258.49 228.94,257.85 227.93,257.10 227.00,256.24 226.18,255.28 225.48,254.23 224.89,253.12 224.44,251.95 224.12,250.74 223.94,249.50 223.90,248.25 223.99,247.01 224.23,245.79 224.60,244.60 225.11,243.47 225.73,242.40 226.47,241.41 227.32,240.51 228.26,239.71 229.28,239.02 230.37,238.45 231.51,238.01 232.70,237.71 233.91,237.53 235.13,237.50 236.34,237.60 237.54,237.83 238.70,238.20 239.80,238.70 240.85,239.31 241.81,240.04 242.69,240.87 243.47,241.79 244.13,242.79 244.68,243.86 245.11,244.98 245.41,246.14 245.57,247.32 245.60,248.51 245.50,249.70 245.26,250.86 244.90,251.99" fill="none" stroke="#3134a4" stroke-width="0.46" stroke-opacity="1.0" stroke-linecap="round" stroke-linejoin="round"/>
<polyline points="245.30,250.73 244.95,251.86 244.48,252.94 243.89,253.97 243.19,254.92 242.39,255.78 241.50,256.55 240.54,257.21 239.50,257.76 238.41,258.18 237.29,258.49 236.14,258.66 234.97,258.71 233.82,258.62 232.68,258.41 231.57,258.07 230.51,257.60 229.52,257.03 228.59,256.35 227.75,255.57 227.00,254.70 226.35,253.75 225.82,252.74 225.40,251.68 225.11,250.58 224.94,249.46 224.89,248.32 224.98,247.20 225.19,246.08 225.52,245.01 225.97,243.97 226.53,243.00 227.20,242.10 227.96,241.27 228.81,240.55 229.73,239.92 230.72,239.40 231.75,238.99 232.82,238.70 233.92,238.54 235.02,238.49 236.13,238.58 237.21,238.78 238.26,239.11 239.27,239.55 240.22,240.09 241.10,240.74 241.90,241.49 242.61,242.31 243.22,243.21 243.73,244.17 244.13,245.18 244.41,246.23 244.57,247.30 244.61,248.37 244.52,249.45 244.32,250.50" fill="none" stroke="#3134a4" stroke-width="0.36" stroke-opacity="0.85" stroke-linecap="round" stroke-linejoin="round"/>
<text x="263.90" y="231.00" font-size="10" text-anchor="start" font-weight="normal" font-style="normal" fill="#1a1a1a" ><tspan font-style="italic">n</tspan> =2</text>
<path d="M301.2 271.8 L298.33 267.90" stroke="#111" stroke-width="1.2" fill="none"/>
<path d="M296.20 265.00 L302.09 268.12 L298.76 268.48 L297.42 271.55 z" fill="#111"/>
<text x="300.40" y="279.00" font-size="10" text-anchor="start" font-weight="normal" font-style="normal" fill="#1a1a1a" ><tspan font-style="italic">p</tspan> =~6 nm</text>
<text x="275.20" y="296.20" font-size="10" text-anchor="middle" font-weight="normal" font-style="normal" fill="#1a1a1a" >Enlarged pore</text>
<text x="274.90" y="308.60" font-size="10" text-anchor="middle" font-weight="normal" font-style="normal" fill="#1a1a1a" >3 unit-blocks</text>
<circle cx="359.90" cy="185.85" r="14.2" fill="#fff"/>
<polyline points="358.43,169.09 360.34,169.24 362.19,169.59 363.96,170.13 365.65,170.87 367.22,171.78 368.67,172.85 369.97,174.06 371.12,175.39 372.10,176.82 372.92,178.33 373.55,179.91 374.01,181.53 374.31,183.18 374.48,184.83 374.49,186.49 374.30,188.13 373.93,189.74 373.39,191.30 372.67,192.78 371.78,194.17 370.75,195.45 369.58,196.61 368.29,197.62 366.90,198.48 365.42,199.17 363.87,199.69 362.27,200.04 360.65,200.19 359.02,200.17 357.41,199.96 355.84,199.57 354.32,199.01 352.87,198.27 351.52,197.38 350.28,196.35 349.17,195.18 348.20,193.89 347.38,192.51 346.72,191.04 346.23,189.51 345.93,187.94 345.80,186.34 345.85,184.74 346.08,183.16 346.49,181.62 347.07,180.14 347.82,178.73 348.72,177.42 349.76,176.22 350.92,175.15 352.20,174.22 353.58,173.44 355.03,172.82 356.54,172.37 358.09,172.09 359.66,171.99 361.23,172.07 362.77,172.33 364.28,172.76 365.73,173.36 367.09,174.11 368.37,175.01 369.53,176.06 370.56,177.22 371.45,178.49 372.19,179.85 372.78,181.29 373.19,182.78 373.44,184.31 373.51,185.85 373.40,187.39 373.12,188.90" fill="none" stroke="#f6941f" stroke-width="1.7" stroke-opacity="1.0" stroke-linecap="round" stroke-linejoin="round"/>
<polyline points="373.12,188.90 372.68,190.36 372.08,191.76 371.32,193.08 370.42,194.30 369.40,195.42 368.25,196.41 367.01,197.26 365.67,197.97 364.27,198.53 362.82,198.92 361.33,199.15 359.83,199.21 358.33,199.09 356.86,198.82 355.43,198.38 354.06,197.78 352.77,197.04 351.57,196.15 350.48,195.14 349.51,194.01 348.68,192.79 347.98,191.48 347.45,190.10 347.07,188.67 346.85,187.21 346.80,185.74 346.91,184.27 347.19,182.83 347.62,181.42 348.21,180.08 348.95,178.82 349.82,177.64 350.82,176.58 351.93,175.63 353.13,174.82 354.42,174.14 355.77,173.62 357.18,173.25 358.61,173.04 360.05,173.00 361.49,173.11 362.91,173.39 364.28,173.82 365.59,174.41 366.83,175.13 367.98,175.99 369.02,176.97 369.95,178.06 370.74,179.25 371.40,180.51 371.91,181.84 372.26,183.22 372.46,184.63 372.50,186.04 372.38,187.45 372.11,188.84 371.68,190.18" fill="none" stroke="#f6941f" stroke-width="0.62" stroke-opacity="1.0" stroke-linecap="round" stroke-linejoin="round"/>
<polyline points="372.15,188.68 371.74,190.03 371.18,191.32 370.48,192.54 369.64,193.68 368.69,194.71 367.63,195.62 366.48,196.41 365.24,197.07 363.94,197.58 362.60,197.94 361.22,198.15 359.83,198.21 358.45,198.10 357.09,197.84 355.77,197.44 354.50,196.88 353.31,196.19 352.20,195.37 351.19,194.44 350.30,193.40 349.53,192.26 348.89,191.05 348.39,189.77 348.04,188.45 347.84,187.11 347.80,185.75 347.90,184.39 348.16,183.06 348.56,181.76 349.11,180.53 349.79,179.36 350.60,178.28 351.52,177.29 352.54,176.42 353.65,175.67 354.84,175.05 356.09,174.57 357.39,174.23 358.71,174.04 360.04,174.00 361.37,174.11 362.67,174.36 363.94,174.76 365.15,175.30 366.29,175.97 367.35,176.76 368.31,177.67 369.16,178.68 369.89,179.77 370.49,180.94 370.96,182.16 371.28,183.43 371.47,184.72 371.50,186.03 371.39,187.33 371.14,188.60 370.74,189.84" fill="none" stroke="#f6941f" stroke-width="0.55" stroke-opacity="1.0" stroke-linecap="round" stroke-linejoin="round"/>
<polyline points="371.17,188.45 370.79,189.70 370.28,190.89 369.63,192.01 368.87,193.05 367.99,194.00 367.01,194.84 365.95,195.57 364.81,196.17 363.62,196.64 362.38,196.97 361.12,197.16 359.84,197.21 358.57,197.11 357.32,196.87 356.10,196.49 354.94,195.99 353.84,195.35 352.83,194.60 351.90,193.74 351.08,192.78 350.38,191.73 349.79,190.62 349.34,189.45 349.02,188.24 348.84,187.00 348.80,185.75 348.89,184.51 349.13,183.29 349.50,182.10 350.01,180.97 350.63,179.90 351.37,178.91 352.22,178.01 353.16,177.21 354.18,176.52 355.27,175.95 356.41,175.51 357.60,175.21 358.81,175.03 360.03,175.00 361.24,175.10 362.44,175.33 363.60,175.70 364.70,176.20 365.75,176.81 366.71,177.54 367.59,178.37 368.37,179.29 369.03,180.29 369.58,181.36 370.01,182.48 370.31,183.64 370.47,184.82 370.50,186.01 370.40,187.20 370.16,188.36 369.80,189.49" fill="none" stroke="#f6941f" stroke-width="0.46" stroke-opacity="1.0" stroke-linecap="round" stroke-linejoin="round"/>
<polyline points="370.20,188.23 369.85,189.36 369.38,190.44 368.79,191.47 368.09,192.42 367.29,193.28 366.40,194.05 365.44,194.71 364.40,195.26 363.31,195.68 362.19,195.99 361.04,196.16 359.87,196.21 358.72,196.12 357.58,195.91 356.47,195.57 355.41,195.10 354.42,194.53 353.49,193.85 352.65,193.07 351.90,192.20 351.25,191.25 350.72,190.24 350.30,189.18 350.01,188.08 349.84,186.96 349.79,185.82 349.88,184.70 350.09,183.58 350.42,182.51 350.87,181.47 351.43,180.50 352.10,179.60 352.86,178.77 353.71,178.05 354.63,177.42 355.62,176.90 356.65,176.49 357.72,176.20 358.82,176.04 359.92,175.99 361.03,176.08 362.11,176.28 363.16,176.61 364.17,177.05 365.12,177.59 366.00,178.24 366.80,178.99 367.51,179.81 368.12,180.71 368.63,181.67 369.03,182.68 369.31,183.73 369.47,184.80 369.51,185.87 369.42,186.95 369.22,188.00" fill="none" stroke="#f6941f" stroke-width="0.36" stroke-opacity="0.85" stroke-linecap="round" stroke-linejoin="round"/>
<circle cx="389.10" cy="206.85" r="14.2" fill="#fff"/>
<polyline points="387.63,190.09 389.54,190.24 391.39,190.59 393.16,191.13 394.85,191.87 396.42,192.78 397.87,193.85 399.17,195.06 400.32,196.39 401.30,197.82 402.12,199.33 402.75,200.91 403.21,202.53 403.51,204.18 403.68,205.83 403.69,207.49 403.50,209.13 403.13,210.74 402.59,212.30 401.87,213.78 400.98,215.17 399.95,216.45 398.78,217.61 397.49,218.62 396.10,219.48 394.62,220.17 393.07,220.69 391.47,221.04 389.85,221.19 388.22,221.17 386.61,220.96 385.04,220.57 383.52,220.01 382.07,219.27 380.72,218.38 379.48,217.35 378.37,216.18 377.40,214.89 376.58,213.51 375.92,212.04 375.43,210.51 375.13,208.94 375.00,207.34 375.05,205.74 375.28,204.16 375.69,202.62 376.27,201.14 377.02,199.73 377.92,198.42 378.96,197.22 380.12,196.15 381.40,195.22 382.78,194.44 384.23,193.82 385.74,193.37 387.29,193.09 388.86,192.99 390.43,193.07 391.97,193.33 393.48,193.76 394.93,194.36 396.29,195.11 397.57,196.01 398.73,197.06 399.76,198.22 400.65,199.49 401.39,200.85 401.98,202.29 402.39,203.78 402.64,205.31 402.71,206.85 402.60,208.39 402.32,209.90" fill="none" stroke="#f6941f" stroke-width="1.7" stroke-opacity="1.0" stroke-linecap="round" stroke-linejoin="round"/>
<polyline points="402.32,209.90 401.88,211.36 401.28,212.76 400.52,214.08 399.62,215.30 398.60,216.42 397.45,217.41 396.21,218.26 394.87,218.97 393.47,219.53 392.02,219.92 390.53,220.15 389.03,220.21 387.53,220.09 386.06,219.82 384.63,219.38 383.26,218.78 381.97,218.04 380.77,217.15 379.68,216.14 378.71,215.01 377.88,213.79 377.18,212.48 376.65,211.10 376.27,209.67 376.05,208.21 376.00,206.74 376.11,205.27 376.39,203.83 376.82,202.42 377.41,201.08 378.15,199.82 379.02,198.64 380.02,197.58 381.13,196.63 382.33,195.82 383.62,195.14 384.97,194.62 386.38,194.25 387.81,194.04 389.25,194.00 390.69,194.11 392.11,194.39 393.48,194.82 394.79,195.41 396.03,196.13 397.18,196.99 398.22,197.97 399.15,199.06 399.94,200.25 400.60,201.51 401.11,202.84 401.46,204.22 401.66,205.63 401.70,207.04 401.58,208.45 401.31,209.84 400.88,211.18" fill="none" stroke="#f6941f" stroke-width="0.62" stroke-opacity="1.0" stroke-linecap="round" stroke-linejoin="round"/>
<polyline points="401.35,209.68 400.94,211.03 400.38,212.32 399.68,213.54 398.84,214.68 397.89,215.71 396.83,216.62 395.68,217.41 394.44,218.07 393.14,218.58 391.80,218.94 390.42,219.15 389.03,219.21 387.65,219.10 386.29,218.84 384.97,218.44 383.70,217.88 382.51,217.19 381.40,216.37 380.39,215.44 379.50,214.40 378.73,213.26 378.09,212.05 377.59,210.77 377.24,209.45 377.04,208.11 377.00,206.75 377.10,205.39 377.36,204.06 377.76,202.76 378.31,201.53 378.99,200.36 379.80,199.28 380.72,198.29 381.74,197.42 382.85,196.67 384.04,196.05 385.29,195.57 386.59,195.23 387.91,195.04 389.24,195.00 390.57,195.11 391.87,195.36 393.14,195.76 394.35,196.30 395.49,196.97 396.55,197.76 397.51,198.67 398.36,199.68 399.09,200.77 399.69,201.94 400.16,203.16 400.48,204.43 400.67,205.72 400.70,207.03 400.59,208.33 400.34,209.60 399.94,210.84" fill="none" stroke="#f6941f" stroke-width="0.55" stroke-opacity="1.0" stroke-linecap="round" stroke-linejoin="round"/>
<polyline points="400.37,209.45 399.99,210.70 399.48,211.89 398.83,213.01 398.07,214.05 397.19,215.00 396.21,215.84 395.15,216.57 394.01,217.17 392.82,217.64 391.58,217.97 390.32,218.16 389.04,218.21 387.77,218.11 386.52,217.87 385.30,217.49 384.14,216.99 383.04,216.35 382.03,215.60 381.10,214.74 380.28,213.78 379.58,212.73 378.99,211.62 378.54,210.45 378.22,209.24 378.04,208.00 378.00,206.75 378.09,205.51 378.33,204.29 378.70,203.10 379.21,201.97 379.83,200.90 380.57,199.91 381.42,199.01 382.36,198.21 383.38,197.52 384.47,196.95 385.61,196.51 386.80,196.21 388.01,196.03 389.23,196.00 390.44,196.10 391.64,196.33 392.80,196.70 393.90,197.20 394.95,197.81 395.91,198.54 396.79,199.37 397.57,200.29 398.23,201.29 398.78,202.36 399.21,203.48 399.51,204.64 399.67,205.82 399.70,207.01 399.60,208.20 399.36,209.36 399.00,210.49" fill="none" stroke="#f6941f" stroke-width="0.46" stroke-opacity="1.0" stroke-linecap="round" stroke-linejoin="round"/>
<polyline points="399.40,209.23 399.05,210.36 398.58,211.44 397.99,212.47 397.29,213.42 396.49,214.28 395.60,215.05 394.64,215.71 393.60,216.26 392.51,216.68 391.39,216.99 390.24,217.16 389.07,217.21 387.92,217.12 386.78,216.91 385.67,216.57 384.61,216.10 383.62,215.53 382.69,214.85 381.85,214.07 381.10,213.20 380.45,212.25 379.92,211.24 379.50,210.18 379.21,209.08 379.04,207.96 378.99,206.82 379.08,205.70 379.29,204.58 379.62,203.51 380.07,202.47 380.63,201.50 381.30,200.60 382.06,199.77 382.91,199.05 383.83,198.42 384.82,197.90 385.85,197.49 386.92,197.20 388.02,197.04 389.12,196.99 390.23,197.08 391.31,197.28 392.36,197.61 393.37,198.05 394.32,198.59 395.20,199.24 396.00,199.99 396.71,200.81 397.32,201.71 397.83,202.67 398.23,203.68 398.51,204.73 398.67,205.80 398.71,206.87 398.62,207.95 398.42,209.00" fill="none" stroke="#f6941f" stroke-width="0.36" stroke-opacity="0.85" stroke-linecap="round" stroke-linejoin="round"/>
<path d="M332.9 228.7 H413.6" stroke="#111" stroke-width="1.1" fill="none"/>
<path d="M417.6 228.7 l-5.6 -2.8 v5.6 z" fill="#111"/>
<text x="374.60" y="239.60" font-size="10" text-anchor="middle" font-weight="normal" font-style="normal" fill="#1a1a1a" >+1 unit-block</text>
<circle cx="426.4" cy="228.7" r="0.7" fill="#111"/>
<circle cx="430.8" cy="228.7" r="0.7" fill="#111"/>
<circle cx="435.2" cy="228.7" r="0.7" fill="#111"/>
</g>
<g id="panel-e">
<text x="469.40" y="166.50" font-size="13.2" text-anchor="start" font-weight="bold" font-style="normal" fill="#000" >e</text>
<circle cx="477.3" cy="196.4" r="2.1" fill="#111"/>
<path d="M477.3 196.4 H498.3" stroke="#111" stroke-width="0.9" fill="none"/>
<path d="M501.3 196.4 l-4.6 -2.1 v4.2 z" fill="#111"/>
<path d="M477.3 196.4 V216.0" stroke="#111" stroke-width="0.9" fill="none"/>
<path d="M477.3 219.0 l-2.1 -4.6 h4.2 z" fill="#111"/>
<text x="488.30" y="195.00" font-size="10" text-anchor="middle" font-weight="normal" font-style="normal" fill="#1a1a1a" >x</text>
<text x="473.60" y="209.40" font-size="10" text-anchor="middle" font-weight="normal" font-style="normal" fill="#1a1a1a" >z</text>
<path d="M490.40 218.65 q0.90 1.92 -0.25 3.85 t-0.25 3.85" fill="none" stroke="#1c1c1c" stroke-width="0.75"/>
<path d="M490.40 236.25 q-0.90 -1.92 -0.25 -3.85 t-0.25 -3.85" fill="none" stroke="#1c1c1c" stroke-width="0.75"/>
<path d="M493.40 218.65 q-0.85 1.92 0.20 3.85 t0.20 3.85" fill="none" stroke="#1c1c1c" stroke-width="0.75"/>
<path d="M493.40 236.25 q0.85 -1.92 0.20 -3.85 t0.20 -3.85" fill="none" stroke="#1c1c1c" stroke-width="0.75"/>
<circle cx="492.00" cy="215.70" r="3.15" fill="#fff" stroke="#111" stroke-width="0.95"/>
<circle cx="492.00" cy="239.20" r="3.15" fill="#fff" stroke="#111" stroke-width="0.95"/>
<path d="M497.10 218.65 q0.90 1.92 -0.25 3.85 t-0.25 3.85" fill="none" stroke="#1c1c1c" stroke-width="0.75"/>
<path d="M497.10 236.25 q-0.90 -1.92 -0.25 -3.85 t-0.25 -3.85" fill="none" stroke="#1c1c1c" stroke-width="0.75"/>
<path d="M500.10 218.65 q-0.85 1.92 0.20 3.85 t0.20 3.85" fill="none" stroke="#1c1c1c" stroke-width="0.75"/>
<path d="M500.10 236.25 q0.85 -1.92 0.20 -3.85 t0.20 -3.85" fill="none" stroke="#1c1c1c" stroke-width="0.75"/>
<circle cx="498.70" cy="215.70" r="3.15" fill="#fff" stroke="#111" stroke-width="0.95"/>
<circle cx="498.70" cy="239.20" r="3.15" fill="#fff" stroke="#111" stroke-width="0.95"/>
<path d="M503.80 218.65 q0.90 1.92 -0.25 3.85 t-0.25 3.85" fill="none" stroke="#1c1c1c" stroke-width="0.75"/>
<path d="M503.80 236.25 q-0.90 -1.92 -0.25 -3.85 t-0.25 -3.85" fill="none" stroke="#1c1c1c" stroke-width="0.75"/>
<path d="M506.80 218.65 q-0.85 1.92 0.20 3.85 t0.20 3.85" fill="none" stroke="#1c1c1c" stroke-width="0.75"/>
<path d="M506.80 236.25 q0.85 -1.92 0.20 -3.85 t0.20 -3.85" fill="none" stroke="#1c1c1c" stroke-width="0.75"/>
<circle cx="505.40" cy="215.70" r="3.15" fill="#fff" stroke="#111" stroke-width="0.95"/>
<circle cx="505.40" cy="239.20" r="3.15" fill="#fff" stroke="#111" stroke-width="0.95"/>
<path d="M516.6 243 C517.2 247.5 517.4 250.8 519.0 252.0 C520.6 253.2 522.0 252.0 522.4 249.5 C522.8 247 523.2 246.4 524.6 245.6 C526 244.8 526.6 243.5 526.7 239.5" fill="#fff" stroke="#111" stroke-width="0.8"/>
<path d="M509.00 200.50 C512.91 200.50 514.39 196.00 518.30 196.00" fill="none" stroke="url(#gR)" stroke-width="5.50"/>
<path d="M509.00 212.20 C512.91 212.20 514.39 207.60 518.30 207.60" fill="none" stroke="url(#gR)" stroke-width="5.50"/>
<path d="M509.00 225.80 C512.91 225.80 514.39 221.60 518.30 221.60" fill="none" stroke="url(#gR)" stroke-width="5.50"/>
<path d="M509.00 240.20 C512.91 240.20 514.39 235.60 518.30 235.60" fill="none" stroke="url(#gR)" stroke-width="5.50"/>
<path d="M509.00 201.50 C512.91 201.50 514.39 208.40 518.30 208.40" fill="none" stroke="#232323" stroke-width="4.40"/>
<path d="M509.00 213.80 C512.91 213.80 514.39 221.20 518.30 221.20" fill="none" stroke="#232323" stroke-width="4.40"/>
<path d="M509.00 228.20 C512.91 228.20 514.39 235.40 518.30 235.40" fill="none" stroke="#232323" stroke-width="4.40"/>
<path d="M509.00 242.40 C512.91 242.40 514.39 247.40 518.30 247.40" fill="none" stroke="#232323" stroke-width="4.40"/>
<path d="M519.20 216.40 C522.31 216.40 523.49 210.40 526.60 210.40" fill="none" stroke="url(#gR)" stroke-width="5.20"/>
<path d="M519.20 229.20 C522.31 229.20 523.49 225.60 526.60 225.60" fill="none" stroke="url(#gR)" stroke-width="5.20"/>
<path d="M519.20 217.80 C522.31 217.80 523.49 223.60 526.60 223.60" fill="none" stroke="#232323" stroke-width="4.40"/>
<path d="M519.20 231.00 C522.31 231.00 523.49 237.60 526.60 237.60" fill="none" stroke="#232323" stroke-width="4.40"/>
<path d="M565.30 218.65 q0.90 1.92 -0.25 3.85 t-0.25 3.85" fill="none" stroke="#1c1c1c" stroke-width="0.75"/>
<path d="M565.30 236.25 q-0.90 -1.92 -0.25 -3.85 t-0.25 -3.85" fill="none" stroke="#1c1c1c" stroke-width="0.75"/>
<path d="M568.30 218.65 q-0.85 1.92 0.20 3.85 t0.20 3.85" fill="none" stroke="#1c1c1c" stroke-width="0.75"/>
<path d="M568.30 236.25 q0.85 -1.92 0.20 -3.85 t0.20 -3.85" fill="none" stroke="#1c1c1c" stroke-width="0.75"/>
<circle cx="566.90" cy="215.70" r="3.15" fill="#fff" stroke="#111" stroke-width="0.95"/>
<circle cx="566.90" cy="239.20" r="3.15" fill="#fff" stroke="#111" stroke-width="0.95"/>
<path d="M572.30 218.65 q0.90 1.92 -0.25 3.85 t-0.25 3.85" fill="none" stroke="#1c1c1c" stroke-width="0.75"/>
<path d="M572.30 236.25 q-0.90 -1.92 -0.25 -3.85 t-0.25 -3.85" fill="none" stroke="#1c1c1c" stroke-width="0.75"/>
<path d="M575.30 218.65 q-0.85 1.92 0.20 3.85 t0.20 3.85" fill="none" stroke="#1c1c1c" stroke-width="0.75"/>
<path d="M575.30 236.25 q0.85 -1.92 0.20 -3.85 t0.20 -3.85" fill="none" stroke="#1c1c1c" stroke-width="0.75"/>
<circle cx="573.90" cy="215.70" r="3.15" fill="#fff" stroke="#111" stroke-width="0.95"/>
<circle cx="573.90" cy="239.20" r="3.15" fill="#fff" stroke="#111" stroke-width="0.95"/>
<path d="M579.40 218.65 q0.90 1.92 -0.25 3.85 t-0.25 3.85" fill="none" stroke="#1c1c1c" stroke-width="0.75"/>
<path d="M579.40 236.25 q-0.90 -1.92 -0.25 -3.85 t-0.25 -3.85" fill="none" stroke="#1c1c1c" stroke-width="0.75"/>
<path d="M582.40 218.65 q-0.85 1.92 0.20 3.85 t0.20 3.85" fill="none" stroke="#1c1c1c" stroke-width="0.75"/>
<path d="M582.40 236.25 q0.85 -1.92 0.20 -3.85 t0.20 -3.85" fill="none" stroke="#1c1c1c" stroke-width="0.75"/>
<circle cx="581.00" cy="215.70" r="3.15" fill="#fff" stroke="#111" stroke-width="0.95"/>
<circle cx="581.00" cy="239.20" r="3.15" fill="#fff" stroke="#111" stroke-width="0.95"/>
<path d="M546.0 237.5 C546.2 243 548.8 244 549.1 248 C549.3 251.5 550.4 252.7 551.8 252.7 C553.4 252.7 554.3 251 554.5 248.5 C554.7 246 555.2 245 556.5 244.3 L556.5 240" fill="#fff" stroke="#111" stroke-width="0.8"/>
<path d="M546.20 223.80 C549.69 223.80 551.01 218.80 554.50 218.80" fill="none" stroke="url(#gB)" stroke-width="5.20"/>
<path d="M546.20 237.20 C549.69 237.20 551.01 232.20 554.50 232.20" fill="none" stroke="url(#gB)" stroke-width="5.20"/>
<path d="M546.20 211.40 C549.69 211.40 551.01 217.00 554.50 217.00" fill="none" stroke="#232323" stroke-width="4.40"/>
<path d="M546.20 225.60 C549.69 225.60 551.01 230.40 554.50 230.40" fill="none" stroke="#232323" stroke-width="4.40"/>
<path d="M553.90 207.40 C557.64 207.40 559.06 202.20 562.80 202.20" fill="none" stroke="url(#gB)" stroke-width="5.30"/>
<path d="M553.90 221.60 C557.64 221.60 559.06 216.60 562.80 216.60" fill="none" stroke="url(#gB)" stroke-width="5.30"/>
<path d="M553.90 234.20 C557.64 234.20 559.06 229.60 562.80 229.60" fill="none" stroke="url(#gB)" stroke-width="5.30"/>
<path d="M553.90 246.60 C557.64 246.60 559.06 242.40 562.80 242.40" fill="none" stroke="url(#gB)" stroke-width="5.30"/>
<path d="M553.90 195.00 C557.64 195.00 559.06 200.40 562.80 200.40" fill="none" stroke="#232323" stroke-width="4.80"/>
<path d="M553.90 208.80 C557.64 208.80 559.06 214.00 562.80 214.00" fill="none" stroke="#232323" stroke-width="4.80"/>
<path d="M553.90 223.00 C557.64 223.00 559.06 228.40 562.80 228.40" fill="none" stroke="#232323" stroke-width="4.80"/>
<path d="M553.90 235.40 C557.64 235.40 559.06 240.80 562.80 240.80" fill="none" stroke="#232323" stroke-width="4.80"/>
<text x="534.00" y="263.50" font-size="10" text-anchor="middle" font-weight="normal" font-style="normal" fill="#1a1a1a" >Single protein /</text>
<text x="535.40" y="275.40" font-size="10" text-anchor="middle" font-weight="normal" font-style="normal" fill="#1a1a1a" >unit-block</text>
<path d="M600.10 218.65 q0.90 1.92 -0.25 3.85 t-0.25 3.85" fill="none" stroke="#1c1c1c" stroke-width="0.75"/>
<path d="M600.10 236.25 q-0.90 -1.92 -0.25 -3.85 t-0.25 -3.85" fill="none" stroke="#1c1c1c" stroke-width="0.75"/>
<path d="M603.10 218.65 q-0.85 1.92 0.20 3.85 t0.20 3.85" fill="none" stroke="#1c1c1c" stroke-width="0.75"/>
<path d="M603.10 236.25 q0.85 -1.92 0.20 -3.85 t0.20 -3.85" fill="none" stroke="#1c1c1c" stroke-width="0.75"/>
<circle cx="601.70" cy="215.70" r="3.15" fill="#fff" stroke="#111" stroke-width="0.95"/>
<circle cx="601.70" cy="239.20" r="3.15" fill="#fff" stroke="#111" stroke-width="0.95"/>
<path d="M606.70 218.65 q0.90 1.92 -0.25 3.85 t-0.25 3.85" fill="none" stroke="#1c1c1c" stroke-width="0.75"/>
<path d="M606.70 236.25 q-0.90 -1.92 -0.25 -3.85 t-0.25 -3.85" fill="none" stroke="#1c1c1c" stroke-width="0.75"/>
<path d="M609.70 218.65 q-0.85 1.92 0.20 3.85 t0.20 3.85" fill="none" stroke="#1c1c1c" stroke-width="0.75"/>
<path d="M609.70 236.25 q0.85 -1.92 0.20 -3.85 t0.20 -3.85" fill="none" stroke="#1c1c1c" stroke-width="0.75"/>
<circle cx="608.30" cy="215.70" r="3.15" fill="#fff" stroke="#111" stroke-width="0.95"/>
<circle cx="608.30" cy="239.20" r="3.15" fill="#fff" stroke="#111" stroke-width="0.95"/>
<path d="M613.30 218.65 q0.90 1.92 -0.25 3.85 t-0.25 3.85" fill="none" stroke="#1c1c1c" stroke-width="0.75"/>
<path d="M613.30 236.25 q-0.90 -1.92 -0.25 -3.85 t-0.25 -3.85" fill="none" stroke="#1c1c1c" stroke-width="0.75"/>
<path d="M616.30 218.65 q-0.85 1.92 0.20 3.85 t0.20 3.85" fill="none" stroke="#1c1c1c" stroke-width="0.75"/>
<path d="M616.30 236.25 q0.85 -1.92 0.20 -3.85 t0.20 -3.85" fill="none" stroke="#1c1c1c" stroke-width="0.75"/>
<circle cx="614.90" cy="215.70" r="3.15" fill="#fff" stroke="#111" stroke-width="0.95"/>
<circle cx="614.90" cy="239.20" r="3.15" fill="#fff" stroke="#111" stroke-width="0.95"/>
<path d="M661.00 218.65 q0.90 1.92 -0.25 3.85 t-0.25 3.85" fill="none" stroke="#1c1c1c" stroke-width="0.75"/>
<path d="M661.00 236.25 q-0.90 -1.92 -0.25 -3.85 t-0.25 -3.85" fill="none" stroke="#1c1c1c" stroke-width="0.75"/>
<path d="M664.00 218.65 q-0.85 1.92 0.20 3.85 t0.20 3.85" fill="none" stroke="#1c1c1c" stroke-width="0.75"/>
<path d="M664.00 236.25 q0.85 -1.92 0.20 -3.85 t0.20 -3.85" fill="none" stroke="#1c1c1c" stroke-width="0.75"/>
<circle cx="662.60" cy="215.70" r="3.15" fill="#fff" stroke="#111" stroke-width="0.95"/>
<circle cx="662.60" cy="239.20" r="3.15" fill="#fff" stroke="#111" stroke-width="0.95"/>
<path d="M668.00 218.65 q0.90 1.92 -0.25 3.85 t-0.25 3.85" fill="none" stroke="#1c1c1c" stroke-width="0.75"/>
<path d="M668.00 236.25 q-0.90 -1.92 -0.25 -3.85 t-0.25 -3.85" fill="none" stroke="#1c1c1c" stroke-width="0.75"/>
<path d="M671.00 218.65 q-0.85 1.92 0.20 3.85 t0.20 3.85" fill="none" stroke="#1c1c1c" stroke-width="0.75"/>
<path d="M671.00 236.25 q0.85 -1.92 0.20 -3.85 t0.20 -3.85" fill="none" stroke="#1c1c1c" stroke-width="0.75"/>
<circle cx="669.60" cy="215.70" r="3.15" fill="#fff" stroke="#111" stroke-width="0.95"/>
<circle cx="669.60" cy="239.20" r="3.15" fill="#fff" stroke="#111" stroke-width="0.95"/>
<path d="M675.20 218.65 q0.90 1.92 -0.25 3.85 t-0.25 3.85" fill="none" stroke="#1c1c1c" stroke-width="0.75"/>
<path d="M675.20 236.25 q-0.90 -1.92 -0.25 -3.85 t-0.25 -3.85" fill="none" stroke="#1c1c1c" stroke-width="0.75"/>
<path d="M678.20 218.65 q-0.85 1.92 0.20 3.85 t0.20 3.85" fill="none" stroke="#1c1c1c" stroke-width="0.75"/>
<path d="M678.20 236.25 q0.85 -1.92 0.20 -3.85 t0.20 -3.85" fill="none" stroke="#1c1c1c" stroke-width="0.75"/>
<circle cx="676.80" cy="215.70" r="3.15" fill="#fff" stroke="#111" stroke-width="0.95"/>
<circle cx="676.80" cy="239.20" r="3.15" fill="#fff" stroke="#111" stroke-width="0.95"/>
<path d="M618.60 220.30 C622.30 220.30 623.70 214.40 627.40 214.40" fill="none" stroke="url(#gR)" stroke-width="4.80"/>
<path d="M618.60 233.00 C622.30 233.00 623.70 227.80 627.40 227.80" fill="none" stroke="url(#gR)" stroke-width="4.80"/>
<path d="M618.60 221.80 C622.30 221.80 623.70 227.80 627.40 227.80" fill="none" stroke="#232323" stroke-width="4.00"/>
<path d="M618.60 235.20 C622.30 235.20 623.70 240.60 627.40 240.60" fill="none" stroke="#232323" stroke-width="4.00"/>
<path d="M629.00 220.30 C631.90 220.30 633.00 216.60 635.90 216.60" fill="none" stroke="url(#gR)" stroke-width="3.70"/>
<path d="M629.00 230.70 C631.90 230.70 633.00 227.00 635.90 227.00" fill="none" stroke="url(#gR)" stroke-width="3.70"/>
<path d="M629.00 221.20 C631.90 221.20 633.00 226.30 635.90 226.30" fill="none" stroke="#232323" stroke-width="3.10"/>
<path d="M629.00 232.20 C631.90 232.20 633.00 236.20 635.90 236.20" fill="none" stroke="#232323" stroke-width="3.10"/>
<path d="M638.20 228.40 C642.74 228.40 644.46 221.00 649.00 221.00" fill="none" stroke="url(#gB)" stroke-width="5.70"/>
<path d="M638.20 245.40 C642.74 245.40 644.46 237.20 649.00 237.20" fill="none" stroke="url(#gB)" stroke-width="5.70"/>
<path d="M638.20 212.00 C642.74 212.00 644.46 219.40 649.00 219.40" fill="none" stroke="#232323" stroke-width="5.20"/>
<path d="M638.20 228.40 C642.74 228.40 644.46 235.80 649.00 235.80" fill="none" stroke="#232323" stroke-width="5.20"/>
<path d="M649.90 227.60 C653.47 227.60 654.83 221.80 658.40 221.80" fill="none" stroke="url(#gB)" stroke-width="5.00"/>
<path d="M649.90 241.40 C653.47 241.40 654.83 235.60 658.40 235.60" fill="none" stroke="url(#gB)" stroke-width="5.00"/>
<path d="M649.90 216.20 C653.47 216.20 654.83 221.00 658.40 221.00" fill="none" stroke="#232323" stroke-width="4.40"/>
<path d="M649.90 228.40 C653.47 228.40 654.83 234.20 658.40 234.20" fill="none" stroke="#232323" stroke-width="4.40"/>
<text x="637.40" y="263.60" font-size="10" text-anchor="middle" font-weight="normal" font-style="normal" fill="#1a1a1a" >Two proteins /</text>
<text x="638.40" y="275.50" font-size="10" text-anchor="middle" font-weight="normal" font-style="normal" fill="#1a1a1a" >unit-block</text>
</g>
</svg>
</body>
</html>
